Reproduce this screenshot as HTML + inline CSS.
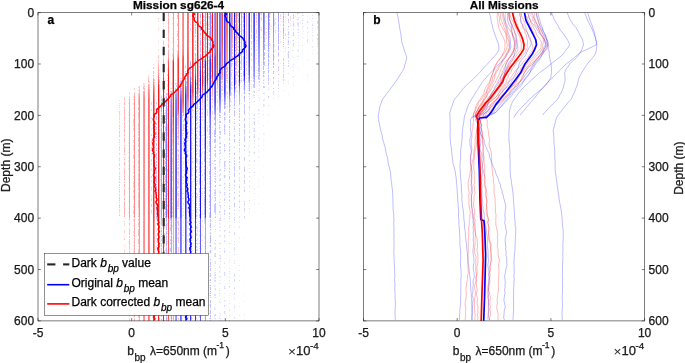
<!DOCTYPE html><html><head><meta charset="utf-8"><style>html,body{margin:0;padding:0;background:#fff;overflow:hidden}svg{display:block;will-change:transform}text{stroke:currentColor;stroke-width:0.25px}stop{stop-color:inherit}</style></head><body><svg width="685" height="363" viewBox="0 0 685 363" font-family='"Liberation Sans", sans-serif'><defs><filter id="fr" x="38.0" y="12.6" width="281.00" height="308.30" filterUnits="userSpaceOnUse" color-interpolation-filters="sRGB"><feTurbulence type="fractalNoise" baseFrequency="0.3 0.6" numOctaves="2" seed="4"/><feColorMatrix type="matrix" values="0 0 0 0 0 0 0 0 0 0 0 0 0 0 0 1 0 0 0 0"/><feComponentTransfer result="U"><feFuncA type="table" tableValues="0 0 0 0 0.003 0.014 0.048 0.109 0.203 0.323 0.481 0.672 0.808 0.894 0.955 0.986 0.997 1 1 1 1"/></feComponentTransfer><feComposite in="SourceGraphic" in2="U" operator="arithmetic" k2="10.000" k3="-2.500" result="th"/><feComponentTransfer in="SourceGraphic"><feFuncA type="table" tableValues="0 0.154 0.248 0.342 0.436 0.530 0.624 0.718 0.812 0.906 1.000"/></feComponentTransfer><feComposite in2="th" operator="in"/></filter><filter id="fb" x="38.0" y="12.6" width="281.00" height="308.30" filterUnits="userSpaceOnUse" color-interpolation-filters="sRGB"><feTurbulence type="fractalNoise" baseFrequency="0.3 0.6" numOctaves="2" seed="9"/><feColorMatrix type="matrix" values="0 0 0 0 0 0 0 0 0 0 0 0 0 0 0 1 0 0 0 0"/><feComponentTransfer result="U"><feFuncA type="table" tableValues="0 0 0 0 0.003 0.014 0.048 0.109 0.203 0.323 0.481 0.672 0.808 0.894 0.955 0.986 0.997 1 1 1 1"/></feComponentTransfer><feComposite in="SourceGraphic" in2="U" operator="arithmetic" k2="10.000" k3="-2.500" result="th"/><feComponentTransfer in="SourceGraphic"><feFuncA type="table" tableValues="0 0.154 0.248 0.342 0.436 0.530 0.624 0.718 0.812 0.906 1.000"/></feComponentTransfer><feComposite in2="th" operator="in"/></filter><linearGradient id="g1" gradientUnits="userSpaceOnUse" x1="0" y1="12.6" x2="0" y2="320.9" stop-color="#ff0000"><stop offset="0.0000" stop-opacity="0.000"/><stop offset="0.2789" stop-opacity="0.000"/><stop offset="0.2854" stop-opacity="0.125"/><stop offset="0.3341" stop-opacity="0.188"/><stop offset="0.6617" stop-opacity="0.188"/><stop offset="0.6714" stop-opacity="0.000"/><stop offset="0.9990" stop-opacity="0.000"/></linearGradient><linearGradient id="g2" gradientUnits="userSpaceOnUse" x1="0" y1="12.6" x2="0" y2="320.9" stop-color="#ff0000"><stop offset="0.0000" stop-opacity="0.000"/><stop offset="0.2660" stop-opacity="0.000"/><stop offset="0.2725" stop-opacity="0.148"/><stop offset="0.2887" stop-opacity="0.243"/><stop offset="0.6617" stop-opacity="0.270"/><stop offset="0.6682" stop-opacity="0.155"/><stop offset="0.9990" stop-opacity="0.065"/></linearGradient><linearGradient id="g3" gradientUnits="userSpaceOnUse" x1="0" y1="12.6" x2="0" y2="320.9" stop-color="#ff0000"><stop offset="0.0000" stop-opacity="0.000"/><stop offset="0.2530" stop-opacity="0.000"/><stop offset="0.2595" stop-opacity="0.145"/><stop offset="0.2887" stop-opacity="0.317"/><stop offset="0.3730" stop-opacity="0.355"/><stop offset="0.6617" stop-opacity="0.355"/><stop offset="0.6682" stop-opacity="0.224"/><stop offset="0.9990" stop-opacity="0.191"/></linearGradient><linearGradient id="g4" gradientUnits="userSpaceOnUse" x1="0" y1="12.6" x2="0" y2="320.9" stop-color="#ff0000"><stop offset="0.0000" stop-opacity="0.000"/><stop offset="0.2400" stop-opacity="0.000"/><stop offset="0.2433" stop-opacity="0.115"/><stop offset="0.2789" stop-opacity="0.389"/><stop offset="0.2919" stop-opacity="0.449"/><stop offset="0.6617" stop-opacity="0.476"/><stop offset="0.6649" stop-opacity="0.346"/><stop offset="0.6682" stop-opacity="0.283"/><stop offset="0.6779" stop-opacity="0.317"/><stop offset="0.9990" stop-opacity="0.270"/></linearGradient><linearGradient id="g5" gradientUnits="userSpaceOnUse" x1="0" y1="12.6" x2="0" y2="320.9" stop-color="#ff0000"><stop offset="0.0000" stop-opacity="0.000"/><stop offset="0.2238" stop-opacity="0.000"/><stop offset="0.2271" stop-opacity="0.100"/><stop offset="0.2660" stop-opacity="0.400"/><stop offset="0.2822" stop-opacity="0.527"/><stop offset="0.6617" stop-opacity="0.519"/><stop offset="0.6649" stop-opacity="0.419"/><stop offset="0.6682" stop-opacity="0.387"/><stop offset="0.6714" stop-opacity="0.454"/><stop offset="0.9990" stop-opacity="0.382"/></linearGradient><linearGradient id="g6" gradientUnits="userSpaceOnUse" x1="0" y1="12.6" x2="0" y2="320.9" stop-color="#ff0000"><stop offset="0.0000" stop-opacity="0.000"/><stop offset="0.2076" stop-opacity="0.000"/><stop offset="0.2108" stop-opacity="0.087"/><stop offset="0.2465" stop-opacity="0.356"/><stop offset="0.2660" stop-opacity="0.524"/><stop offset="0.2854" stop-opacity="0.626"/><stop offset="0.6617" stop-opacity="0.602"/><stop offset="0.6649" stop-opacity="0.538"/><stop offset="0.6747" stop-opacity="0.600"/><stop offset="0.9990" stop-opacity="0.542"/></linearGradient><linearGradient id="g7" gradientUnits="userSpaceOnUse" x1="0" y1="12.6" x2="0" y2="320.9" stop-color="#ff0000"><stop offset="0.0000" stop-opacity="0.000"/><stop offset="0.1816" stop-opacity="0.000"/><stop offset="0.1881" stop-opacity="0.090"/><stop offset="0.2303" stop-opacity="0.347"/><stop offset="0.2562" stop-opacity="0.598"/><stop offset="0.2854" stop-opacity="0.766"/><stop offset="0.6617" stop-opacity="0.744"/><stop offset="0.6682" stop-opacity="0.728"/><stop offset="0.9990" stop-opacity="0.707"/></linearGradient><linearGradient id="g8" gradientUnits="userSpaceOnUse" x1="0" y1="12.6" x2="0" y2="320.9" stop-color="#ff0000"><stop offset="0.0000" stop-opacity="0.052"/><stop offset="0.0616" stop-opacity="0.035"/><stop offset="0.0843" stop-opacity="0.000"/><stop offset="0.1460" stop-opacity="0.000"/><stop offset="0.1719" stop-opacity="0.160"/><stop offset="0.2108" stop-opacity="0.320"/><stop offset="0.2562" stop-opacity="0.775"/><stop offset="0.2822" stop-opacity="0.926"/><stop offset="0.6649" stop-opacity="0.902"/><stop offset="0.6747" stop-opacity="0.846"/><stop offset="0.9990" stop-opacity="0.846"/></linearGradient><linearGradient id="g9" gradientUnits="userSpaceOnUse" x1="0" y1="12.6" x2="0" y2="320.9" stop-color="#ff0000"><stop offset="0.0000" stop-opacity="0.146"/><stop offset="0.0876" stop-opacity="0.109"/><stop offset="0.1233" stop-opacity="0.107"/><stop offset="0.1557" stop-opacity="0.204"/><stop offset="0.2011" stop-opacity="0.416"/><stop offset="0.2498" stop-opacity="0.926"/><stop offset="0.6649" stop-opacity="0.902"/><stop offset="0.6747" stop-opacity="0.846"/><stop offset="0.9990" stop-opacity="0.846"/></linearGradient><linearGradient id="g10" gradientUnits="userSpaceOnUse" x1="0" y1="12.6" x2="0" y2="320.9" stop-color="#ff0000"><stop offset="0.0000" stop-opacity="0.213"/><stop offset="0.1233" stop-opacity="0.191"/><stop offset="0.1524" stop-opacity="0.279"/><stop offset="0.1849" stop-opacity="0.526"/><stop offset="0.2076" stop-opacity="0.684"/><stop offset="0.2303" stop-opacity="0.926"/><stop offset="0.6649" stop-opacity="0.902"/><stop offset="0.6747" stop-opacity="0.846"/><stop offset="0.9990" stop-opacity="0.846"/></linearGradient><linearGradient id="g11" gradientUnits="userSpaceOnUse" x1="0" y1="12.6" x2="0" y2="320.9" stop-color="#ff0000"><stop offset="0.0000" stop-opacity="0.273"/><stop offset="0.1265" stop-opacity="0.264"/><stop offset="0.1427" stop-opacity="0.311"/><stop offset="0.1557" stop-opacity="0.506"/><stop offset="0.1622" stop-opacity="0.626"/><stop offset="0.2043" stop-opacity="0.874"/><stop offset="0.2141" stop-opacity="0.926"/><stop offset="0.6649" stop-opacity="0.902"/><stop offset="0.6682" stop-opacity="0.711"/><stop offset="0.6714" stop-opacity="0.644"/><stop offset="0.9990" stop-opacity="0.644"/></linearGradient><linearGradient id="g12" gradientUnits="userSpaceOnUse" x1="0" y1="12.6" x2="0" y2="320.9" stop-color="#ff0000"><stop offset="0.0000" stop-opacity="0.360"/><stop offset="0.1168" stop-opacity="0.336"/><stop offset="0.1395" stop-opacity="0.423"/><stop offset="0.1524" stop-opacity="0.661"/><stop offset="0.1622" stop-opacity="0.897"/><stop offset="0.2108" stop-opacity="0.926"/><stop offset="0.3341" stop-opacity="0.926"/><stop offset="0.3438" stop-opacity="0.801"/><stop offset="0.4541" stop-opacity="0.545"/><stop offset="0.6617" stop-opacity="0.545"/><stop offset="0.6682" stop-opacity="0.354"/><stop offset="0.7363" stop-opacity="0.327"/><stop offset="0.9990" stop-opacity="0.327"/></linearGradient><linearGradient id="g13" gradientUnits="userSpaceOnUse" x1="0" y1="12.6" x2="0" y2="320.9" stop-color="#ff0000"><stop offset="0.0000" stop-opacity="0.497"/><stop offset="0.1103" stop-opacity="0.468"/><stop offset="0.1395" stop-opacity="0.595"/><stop offset="0.1524" stop-opacity="0.896"/><stop offset="0.1719" stop-opacity="0.926"/><stop offset="0.3114" stop-opacity="0.913"/><stop offset="0.3373" stop-opacity="0.527"/><stop offset="0.3438" stop-opacity="0.436"/><stop offset="0.4444" stop-opacity="0.258"/><stop offset="0.6649" stop-opacity="0.241"/><stop offset="0.7331" stop-opacity="0.213"/><stop offset="0.9990" stop-opacity="0.213"/></linearGradient><linearGradient id="g14" gradientUnits="userSpaceOnUse" x1="0" y1="12.6" x2="0" y2="320.9" stop-color="#ff0000"><stop offset="0.0000" stop-opacity="0.642"/><stop offset="0.1103" stop-opacity="0.630"/><stop offset="0.1362" stop-opacity="0.733"/><stop offset="0.1460" stop-opacity="0.926"/><stop offset="0.2887" stop-opacity="0.915"/><stop offset="0.3244" stop-opacity="0.479"/><stop offset="0.3406" stop-opacity="0.266"/><stop offset="0.4833" stop-opacity="0.176"/><stop offset="0.9990" stop-opacity="0.152"/></linearGradient><linearGradient id="g15" gradientUnits="userSpaceOnUse" x1="0" y1="12.6" x2="0" y2="320.9" stop-color="#ff0000"><stop offset="0.0000" stop-opacity="0.794"/><stop offset="0.1103" stop-opacity="0.801"/><stop offset="0.1427" stop-opacity="0.926"/><stop offset="0.2725" stop-opacity="0.915"/><stop offset="0.2887" stop-opacity="0.673"/><stop offset="0.3308" stop-opacity="0.252"/><stop offset="0.3503" stop-opacity="0.179"/><stop offset="0.9990" stop-opacity="0.138"/></linearGradient><linearGradient id="g16" gradientUnits="userSpaceOnUse" x1="0" y1="12.6" x2="0" y2="320.9" stop-color="#ff0000"><stop offset="0.0000" stop-opacity="0.926"/><stop offset="0.2562" stop-opacity="0.926"/><stop offset="0.2887" stop-opacity="0.471"/><stop offset="0.3146" stop-opacity="0.280"/><stop offset="0.3438" stop-opacity="0.157"/><stop offset="0.9990" stop-opacity="0.125"/></linearGradient><linearGradient id="g17" gradientUnits="userSpaceOnUse" x1="0" y1="12.6" x2="0" y2="320.9" stop-color="#ff0000"><stop offset="0.0000" stop-opacity="0.926"/><stop offset="0.2433" stop-opacity="0.926"/><stop offset="0.2854" stop-opacity="0.336"/><stop offset="0.3406" stop-opacity="0.150"/><stop offset="0.9990" stop-opacity="0.111"/></linearGradient><linearGradient id="g18" gradientUnits="userSpaceOnUse" x1="0" y1="12.6" x2="0" y2="320.9" stop-color="#ff0000"><stop offset="0.0000" stop-opacity="0.926"/><stop offset="0.2303" stop-opacity="0.926"/><stop offset="0.2692" stop-opacity="0.379"/><stop offset="0.2887" stop-opacity="0.249"/><stop offset="0.3568" stop-opacity="0.135"/><stop offset="0.9990" stop-opacity="0.094"/></linearGradient><linearGradient id="g19" gradientUnits="userSpaceOnUse" x1="0" y1="12.6" x2="0" y2="320.9" stop-color="#ff0000"><stop offset="0.0000" stop-opacity="0.926"/><stop offset="0.2173" stop-opacity="0.926"/><stop offset="0.2465" stop-opacity="0.500"/><stop offset="0.2692" stop-opacity="0.281"/><stop offset="0.3081" stop-opacity="0.173"/><stop offset="0.3990" stop-opacity="0.116"/><stop offset="0.6682" stop-opacity="0.080"/><stop offset="0.9990" stop-opacity="0.071"/></linearGradient><linearGradient id="g20" gradientUnits="userSpaceOnUse" x1="0" y1="12.6" x2="0" y2="320.9" stop-color="#ff0000"><stop offset="0.0000" stop-opacity="0.926"/><stop offset="0.2043" stop-opacity="0.922"/><stop offset="0.2335" stop-opacity="0.493"/><stop offset="0.2562" stop-opacity="0.289"/><stop offset="0.2952" stop-opacity="0.172"/><stop offset="0.3957" stop-opacity="0.102"/><stop offset="0.6649" stop-opacity="0.075"/><stop offset="0.6747" stop-opacity="0.000"/><stop offset="0.9990" stop-opacity="0.000"/></linearGradient><linearGradient id="g21" gradientUnits="userSpaceOnUse" x1="0" y1="12.6" x2="0" y2="320.9" stop-color="#ff0000"><stop offset="0.0000" stop-opacity="0.926"/><stop offset="0.1395" stop-opacity="0.908"/><stop offset="0.2043" stop-opacity="0.703"/><stop offset="0.2335" stop-opacity="0.350"/><stop offset="0.2789" stop-opacity="0.173"/><stop offset="0.3990" stop-opacity="0.083"/><stop offset="0.6617" stop-opacity="0.058"/><stop offset="0.6714" stop-opacity="0.000"/><stop offset="0.9990" stop-opacity="0.000"/></linearGradient><linearGradient id="g22" gradientUnits="userSpaceOnUse" x1="0" y1="12.6" x2="0" y2="320.9" stop-color="#ff0000"><stop offset="0.0000" stop-opacity="0.926"/><stop offset="0.0811" stop-opacity="0.900"/><stop offset="0.1881" stop-opacity="0.575"/><stop offset="0.2043" stop-opacity="0.520"/><stop offset="0.2271" stop-opacity="0.302"/><stop offset="0.2789" stop-opacity="0.161"/><stop offset="0.4217" stop-opacity="0.018"/><stop offset="0.9990" stop-opacity="0.000"/></linearGradient><linearGradient id="g23" gradientUnits="userSpaceOnUse" x1="0" y1="12.6" x2="0" y2="320.9" stop-color="#ff0000"><stop offset="0.0000" stop-opacity="0.888"/><stop offset="0.0681" stop-opacity="0.772"/><stop offset="0.1687" stop-opacity="0.457"/><stop offset="0.2043" stop-opacity="0.369"/><stop offset="0.2335" stop-opacity="0.229"/><stop offset="0.2984" stop-opacity="0.134"/><stop offset="0.3892" stop-opacity="0.000"/><stop offset="0.9990" stop-opacity="0.000"/></linearGradient><linearGradient id="g24" gradientUnits="userSpaceOnUse" x1="0" y1="12.6" x2="0" y2="320.9" stop-color="#ff0000"><stop offset="0.0000" stop-opacity="0.722"/><stop offset="0.0681" stop-opacity="0.614"/><stop offset="0.1687" stop-opacity="0.328"/><stop offset="0.2173" stop-opacity="0.237"/><stop offset="0.2887" stop-opacity="0.128"/><stop offset="0.3341" stop-opacity="0.054"/><stop offset="0.3438" stop-opacity="0.000"/><stop offset="0.9990" stop-opacity="0.000"/></linearGradient><linearGradient id="g25" gradientUnits="userSpaceOnUse" x1="0" y1="12.6" x2="0" y2="320.9" stop-color="#ff0000"><stop offset="0.0000" stop-opacity="0.576"/><stop offset="0.0681" stop-opacity="0.478"/><stop offset="0.1297" stop-opacity="0.320"/><stop offset="0.2238" stop-opacity="0.184"/><stop offset="0.3244" stop-opacity="0.061"/><stop offset="0.3341" stop-opacity="0.000"/><stop offset="0.9990" stop-opacity="0.000"/></linearGradient><linearGradient id="g26" gradientUnits="userSpaceOnUse" x1="0" y1="12.6" x2="0" y2="320.9" stop-color="#ff0000"><stop offset="0.0000" stop-opacity="0.449"/><stop offset="0.0714" stop-opacity="0.352"/><stop offset="0.1849" stop-opacity="0.214"/><stop offset="0.3179" stop-opacity="0.053"/><stop offset="0.3276" stop-opacity="0.000"/><stop offset="0.9990" stop-opacity="0.000"/></linearGradient><linearGradient id="g27" gradientUnits="userSpaceOnUse" x1="0" y1="12.6" x2="0" y2="320.9" stop-color="#ff0000"><stop offset="0.0000" stop-opacity="0.341"/><stop offset="0.2952" stop-opacity="0.061"/><stop offset="0.3211" stop-opacity="0.000"/><stop offset="0.9990" stop-opacity="0.000"/></linearGradient><linearGradient id="g28" gradientUnits="userSpaceOnUse" x1="0" y1="12.6" x2="0" y2="320.9" stop-color="#ff0000"><stop offset="0.0000" stop-opacity="0.282"/><stop offset="0.2757" stop-opacity="0.071"/><stop offset="0.2952" stop-opacity="0.000"/><stop offset="0.9990" stop-opacity="0.000"/></linearGradient><linearGradient id="g29" gradientUnits="userSpaceOnUse" x1="0" y1="12.6" x2="0" y2="320.9" stop-color="#ff0000"><stop offset="0.0000" stop-opacity="0.244"/><stop offset="0.2627" stop-opacity="0.078"/><stop offset="0.2789" stop-opacity="0.000"/><stop offset="0.9990" stop-opacity="0.000"/></linearGradient><linearGradient id="g30" gradientUnits="userSpaceOnUse" x1="0" y1="12.6" x2="0" y2="320.9" stop-color="#ff0000"><stop offset="0.0000" stop-opacity="0.213"/><stop offset="0.2530" stop-opacity="0.076"/><stop offset="0.2692" stop-opacity="0.000"/><stop offset="0.9990" stop-opacity="0.000"/></linearGradient><linearGradient id="g31" gradientUnits="userSpaceOnUse" x1="0" y1="12.6" x2="0" y2="320.9" stop-color="#ff0000"><stop offset="0.0000" stop-opacity="0.185"/><stop offset="0.2433" stop-opacity="0.072"/><stop offset="0.2627" stop-opacity="0.000"/><stop offset="0.9990" stop-opacity="0.000"/></linearGradient><linearGradient id="g32" gradientUnits="userSpaceOnUse" x1="0" y1="12.6" x2="0" y2="320.9" stop-color="#ff0000"><stop offset="0.0000" stop-opacity="0.162"/><stop offset="0.2335" stop-opacity="0.068"/><stop offset="0.2530" stop-opacity="0.000"/><stop offset="0.9990" stop-opacity="0.000"/></linearGradient><linearGradient id="g33" gradientUnits="userSpaceOnUse" x1="0" y1="12.6" x2="0" y2="320.9" stop-color="#ff0000"><stop offset="0.0000" stop-opacity="0.144"/><stop offset="0.2206" stop-opacity="0.070"/><stop offset="0.2433" stop-opacity="0.000"/><stop offset="0.9990" stop-opacity="0.000"/></linearGradient><linearGradient id="g34" gradientUnits="userSpaceOnUse" x1="0" y1="12.6" x2="0" y2="320.9" stop-color="#ff0000"><stop offset="0.0000" stop-opacity="0.131"/><stop offset="0.2108" stop-opacity="0.066"/><stop offset="0.2303" stop-opacity="0.000"/><stop offset="0.9990" stop-opacity="0.000"/></linearGradient><linearGradient id="g35" gradientUnits="userSpaceOnUse" x1="0" y1="12.6" x2="0" y2="320.9" stop-color="#ff0000"><stop offset="0.0000" stop-opacity="0.123"/><stop offset="0.2011" stop-opacity="0.061"/><stop offset="0.2206" stop-opacity="0.000"/><stop offset="0.9990" stop-opacity="0.000"/></linearGradient><linearGradient id="g36" gradientUnits="userSpaceOnUse" x1="0" y1="12.6" x2="0" y2="320.9" stop-color="#ff0000"><stop offset="0.0000" stop-opacity="0.115"/><stop offset="0.1816" stop-opacity="0.058"/><stop offset="0.2141" stop-opacity="0.000"/><stop offset="0.9990" stop-opacity="0.000"/></linearGradient><linearGradient id="g37" gradientUnits="userSpaceOnUse" x1="0" y1="12.6" x2="0" y2="320.9" stop-color="#ff0000"><stop offset="0.0000" stop-opacity="0.107"/><stop offset="0.1654" stop-opacity="0.051"/><stop offset="0.1946" stop-opacity="0.000"/><stop offset="0.9990" stop-opacity="0.000"/></linearGradient><linearGradient id="g38" gradientUnits="userSpaceOnUse" x1="0" y1="12.6" x2="0" y2="320.9" stop-color="#ff0000"><stop offset="0.0000" stop-opacity="0.098"/><stop offset="0.1524" stop-opacity="0.045"/><stop offset="0.1719" stop-opacity="0.000"/><stop offset="0.9990" stop-opacity="0.000"/></linearGradient><linearGradient id="g39" gradientUnits="userSpaceOnUse" x1="0" y1="12.6" x2="0" y2="320.9" stop-color="#ff0000"><stop offset="0.0000" stop-opacity="0.088"/><stop offset="0.1427" stop-opacity="0.031"/><stop offset="0.1589" stop-opacity="0.000"/><stop offset="0.9990" stop-opacity="0.000"/></linearGradient><linearGradient id="g40" gradientUnits="userSpaceOnUse" x1="0" y1="12.6" x2="0" y2="320.9" stop-color="#ff0000"><stop offset="0.0000" stop-opacity="0.075"/><stop offset="0.1200" stop-opacity="0.014"/><stop offset="0.9990" stop-opacity="0.000"/></linearGradient><linearGradient id="g41" gradientUnits="userSpaceOnUse" x1="0" y1="12.6" x2="0" y2="320.9" stop-color="#ff0000"><stop offset="0.0000" stop-opacity="0.058"/><stop offset="0.0811" stop-opacity="0.011"/><stop offset="0.9990" stop-opacity="0.000"/></linearGradient><linearGradient id="g42" gradientUnits="userSpaceOnUse" x1="0" y1="12.6" x2="0" y2="320.9" stop-color="#0000ff"><stop offset="0.0000" stop-opacity="0.000"/><stop offset="0.2757" stop-opacity="0.000"/><stop offset="0.2854" stop-opacity="0.106"/><stop offset="0.6617" stop-opacity="0.143"/><stop offset="0.6682" stop-opacity="0.000"/><stop offset="0.9990" stop-opacity="0.000"/></linearGradient><linearGradient id="g43" gradientUnits="userSpaceOnUse" x1="0" y1="12.6" x2="0" y2="320.9" stop-color="#0000ff"><stop offset="0.0000" stop-opacity="0.000"/><stop offset="0.2660" stop-opacity="0.000"/><stop offset="0.2725" stop-opacity="0.111"/><stop offset="0.2887" stop-opacity="0.195"/><stop offset="0.6390" stop-opacity="0.241"/><stop offset="0.6617" stop-opacity="0.241"/><stop offset="0.6714" stop-opacity="0.105"/><stop offset="0.9990" stop-opacity="0.105"/></linearGradient><linearGradient id="g44" gradientUnits="userSpaceOnUse" x1="0" y1="12.6" x2="0" y2="320.9" stop-color="#0000ff"><stop offset="0.0000" stop-opacity="0.000"/><stop offset="0.2530" stop-opacity="0.000"/><stop offset="0.2660" stop-opacity="0.156"/><stop offset="0.2887" stop-opacity="0.267"/><stop offset="0.5092" stop-opacity="0.354"/><stop offset="0.6617" stop-opacity="0.354"/><stop offset="0.6682" stop-opacity="0.219"/><stop offset="0.9990" stop-opacity="0.194"/></linearGradient><linearGradient id="g45" gradientUnits="userSpaceOnUse" x1="0" y1="12.6" x2="0" y2="320.9" stop-color="#0000ff"><stop offset="0.0000" stop-opacity="0.000"/><stop offset="0.2400" stop-opacity="0.000"/><stop offset="0.2465" stop-opacity="0.098"/><stop offset="0.2887" stop-opacity="0.373"/><stop offset="0.3730" stop-opacity="0.502"/><stop offset="0.4963" stop-opacity="0.562"/><stop offset="0.6617" stop-opacity="0.562"/><stop offset="0.6682" stop-opacity="0.298"/><stop offset="0.6876" stop-opacity="0.268"/><stop offset="0.9990" stop-opacity="0.268"/></linearGradient><linearGradient id="g46" gradientUnits="userSpaceOnUse" x1="0" y1="12.6" x2="0" y2="320.9" stop-color="#0000ff"><stop offset="0.0000" stop-opacity="0.000"/><stop offset="0.2238" stop-opacity="0.000"/><stop offset="0.2335" stop-opacity="0.122"/><stop offset="0.2692" stop-opacity="0.366"/><stop offset="0.2854" stop-opacity="0.531"/><stop offset="0.3633" stop-opacity="0.696"/><stop offset="0.4768" stop-opacity="0.787"/><stop offset="0.6617" stop-opacity="0.787"/><stop offset="0.6649" stop-opacity="0.647"/><stop offset="0.6682" stop-opacity="0.449"/><stop offset="0.6714" stop-opacity="0.381"/><stop offset="0.9990" stop-opacity="0.381"/></linearGradient><linearGradient id="g47" gradientUnits="userSpaceOnUse" x1="0" y1="12.6" x2="0" y2="320.9" stop-color="#0000ff"><stop offset="0.0000" stop-opacity="0.000"/><stop offset="0.2076" stop-opacity="0.000"/><stop offset="0.2206" stop-opacity="0.146"/><stop offset="0.2530" stop-opacity="0.346"/><stop offset="0.2854" stop-opacity="0.706"/><stop offset="0.3568" stop-opacity="0.902"/><stop offset="0.6617" stop-opacity="0.926"/><stop offset="0.6649" stop-opacity="0.864"/><stop offset="0.6682" stop-opacity="0.632"/><stop offset="0.6714" stop-opacity="0.552"/><stop offset="0.9990" stop-opacity="0.552"/></linearGradient><linearGradient id="g48" gradientUnits="userSpaceOnUse" x1="0" y1="12.6" x2="0" y2="320.9" stop-color="#0000ff"><stop offset="0.0000" stop-opacity="0.000"/><stop offset="0.1816" stop-opacity="0.000"/><stop offset="0.1946" stop-opacity="0.103"/><stop offset="0.2368" stop-opacity="0.356"/><stop offset="0.2854" stop-opacity="0.890"/><stop offset="0.3179" stop-opacity="0.926"/><stop offset="0.6617" stop-opacity="0.926"/><stop offset="0.6714" stop-opacity="0.735"/><stop offset="0.9990" stop-opacity="0.735"/></linearGradient><linearGradient id="g49" gradientUnits="userSpaceOnUse" x1="0" y1="12.6" x2="0" y2="320.9" stop-color="#0000ff"><stop offset="0.0000" stop-opacity="0.052"/><stop offset="0.0616" stop-opacity="0.035"/><stop offset="0.0843" stop-opacity="0.000"/><stop offset="0.1460" stop-opacity="0.000"/><stop offset="0.1687" stop-opacity="0.139"/><stop offset="0.2108" stop-opacity="0.288"/><stop offset="0.2692" stop-opacity="0.926"/><stop offset="0.6617" stop-opacity="0.926"/><stop offset="0.6714" stop-opacity="0.777"/><stop offset="0.9990" stop-opacity="0.777"/></linearGradient><linearGradient id="g50" gradientUnits="userSpaceOnUse" x1="0" y1="12.6" x2="0" y2="320.9" stop-color="#0000ff"><stop offset="0.0000" stop-opacity="0.146"/><stop offset="0.0876" stop-opacity="0.109"/><stop offset="0.1233" stop-opacity="0.107"/><stop offset="0.1557" stop-opacity="0.204"/><stop offset="0.2043" stop-opacity="0.392"/><stop offset="0.2498" stop-opacity="0.926"/><stop offset="0.6617" stop-opacity="0.926"/><stop offset="0.6714" stop-opacity="0.777"/><stop offset="0.9990" stop-opacity="0.777"/></linearGradient><linearGradient id="g51" gradientUnits="userSpaceOnUse" x1="0" y1="12.6" x2="0" y2="320.9" stop-color="#0000ff"><stop offset="0.0000" stop-opacity="0.213"/><stop offset="0.1233" stop-opacity="0.191"/><stop offset="0.1524" stop-opacity="0.279"/><stop offset="0.1752" stop-opacity="0.448"/><stop offset="0.2043" stop-opacity="0.620"/><stop offset="0.2303" stop-opacity="0.926"/><stop offset="0.6617" stop-opacity="0.926"/><stop offset="0.6714" stop-opacity="0.777"/><stop offset="0.9990" stop-opacity="0.777"/></linearGradient><linearGradient id="g52" gradientUnits="userSpaceOnUse" x1="0" y1="12.6" x2="0" y2="320.9" stop-color="#0000ff"><stop offset="0.0000" stop-opacity="0.273"/><stop offset="0.1265" stop-opacity="0.264"/><stop offset="0.1427" stop-opacity="0.311"/><stop offset="0.1557" stop-opacity="0.506"/><stop offset="0.1622" stop-opacity="0.625"/><stop offset="0.2043" stop-opacity="0.868"/><stop offset="0.2141" stop-opacity="0.926"/><stop offset="0.6617" stop-opacity="0.926"/><stop offset="0.6649" stop-opacity="0.881"/><stop offset="0.6682" stop-opacity="0.710"/><stop offset="0.6714" stop-opacity="0.607"/><stop offset="0.9990" stop-opacity="0.607"/></linearGradient><linearGradient id="g53" gradientUnits="userSpaceOnUse" x1="0" y1="12.6" x2="0" y2="320.9" stop-color="#0000ff"><stop offset="0.0000" stop-opacity="0.360"/><stop offset="0.1168" stop-opacity="0.336"/><stop offset="0.1395" stop-opacity="0.423"/><stop offset="0.1524" stop-opacity="0.661"/><stop offset="0.1622" stop-opacity="0.897"/><stop offset="0.2108" stop-opacity="0.926"/><stop offset="0.3925" stop-opacity="0.900"/><stop offset="0.4606" stop-opacity="0.787"/><stop offset="0.6617" stop-opacity="0.787"/><stop offset="0.6682" stop-opacity="0.396"/><stop offset="0.6714" stop-opacity="0.335"/><stop offset="0.9990" stop-opacity="0.335"/></linearGradient><linearGradient id="g54" gradientUnits="userSpaceOnUse" x1="0" y1="12.6" x2="0" y2="320.9" stop-color="#0000ff"><stop offset="0.0000" stop-opacity="0.497"/><stop offset="0.1103" stop-opacity="0.468"/><stop offset="0.1395" stop-opacity="0.595"/><stop offset="0.1524" stop-opacity="0.896"/><stop offset="0.1719" stop-opacity="0.926"/><stop offset="0.3114" stop-opacity="0.913"/><stop offset="0.3438" stop-opacity="0.647"/><stop offset="0.4573" stop-opacity="0.401"/><stop offset="0.6617" stop-opacity="0.401"/><stop offset="0.6682" stop-opacity="0.249"/><stop offset="0.9990" stop-opacity="0.231"/></linearGradient><linearGradient id="g55" gradientUnits="userSpaceOnUse" x1="0" y1="12.6" x2="0" y2="320.9" stop-color="#0000ff"><stop offset="0.0000" stop-opacity="0.642"/><stop offset="0.1103" stop-opacity="0.630"/><stop offset="0.1362" stop-opacity="0.733"/><stop offset="0.1460" stop-opacity="0.926"/><stop offset="0.2887" stop-opacity="0.915"/><stop offset="0.3276" stop-opacity="0.524"/><stop offset="0.3471" stop-opacity="0.394"/><stop offset="0.4541" stop-opacity="0.250"/><stop offset="0.6617" stop-opacity="0.250"/><stop offset="0.6747" stop-opacity="0.173"/><stop offset="0.9990" stop-opacity="0.173"/></linearGradient><linearGradient id="g56" gradientUnits="userSpaceOnUse" x1="0" y1="12.6" x2="0" y2="320.9" stop-color="#0000ff"><stop offset="0.0000" stop-opacity="0.794"/><stop offset="0.1103" stop-opacity="0.801"/><stop offset="0.1427" stop-opacity="0.926"/><stop offset="0.2725" stop-opacity="0.915"/><stop offset="0.2887" stop-opacity="0.681"/><stop offset="0.3276" stop-opacity="0.335"/><stop offset="0.3568" stop-opacity="0.260"/><stop offset="0.5157" stop-opacity="0.205"/><stop offset="0.6649" stop-opacity="0.189"/><stop offset="0.6876" stop-opacity="0.156"/><stop offset="0.9990" stop-opacity="0.156"/></linearGradient><linearGradient id="g57" gradientUnits="userSpaceOnUse" x1="0" y1="12.6" x2="0" y2="320.9" stop-color="#0000ff"><stop offset="0.0000" stop-opacity="0.926"/><stop offset="0.2562" stop-opacity="0.926"/><stop offset="0.2887" stop-opacity="0.484"/><stop offset="0.3146" stop-opacity="0.296"/><stop offset="0.3600" stop-opacity="0.212"/><stop offset="0.6649" stop-opacity="0.178"/><stop offset="0.6844" stop-opacity="0.142"/><stop offset="0.9990" stop-opacity="0.142"/></linearGradient><linearGradient id="g58" gradientUnits="userSpaceOnUse" x1="0" y1="12.6" x2="0" y2="320.9" stop-color="#0000ff"><stop offset="0.0000" stop-opacity="0.926"/><stop offset="0.2433" stop-opacity="0.926"/><stop offset="0.2854" stop-opacity="0.349"/><stop offset="0.3308" stop-opacity="0.207"/><stop offset="0.6649" stop-opacity="0.167"/><stop offset="0.6812" stop-opacity="0.127"/><stop offset="0.9990" stop-opacity="0.127"/></linearGradient><linearGradient id="g59" gradientUnits="userSpaceOnUse" x1="0" y1="12.6" x2="0" y2="320.9" stop-color="#0000ff"><stop offset="0.0000" stop-opacity="0.926"/><stop offset="0.2303" stop-opacity="0.926"/><stop offset="0.2660" stop-opacity="0.424"/><stop offset="0.2822" stop-opacity="0.280"/><stop offset="0.3373" stop-opacity="0.187"/><stop offset="0.6649" stop-opacity="0.154"/><stop offset="0.6779" stop-opacity="0.111"/><stop offset="0.9990" stop-opacity="0.111"/></linearGradient><linearGradient id="g60" gradientUnits="userSpaceOnUse" x1="0" y1="12.6" x2="0" y2="320.9" stop-color="#0000ff"><stop offset="0.0000" stop-opacity="0.926"/><stop offset="0.2173" stop-opacity="0.926"/><stop offset="0.2465" stop-opacity="0.500"/><stop offset="0.2692" stop-opacity="0.286"/><stop offset="0.3081" stop-opacity="0.190"/><stop offset="0.6649" stop-opacity="0.141"/><stop offset="0.6779" stop-opacity="0.091"/><stop offset="0.9990" stop-opacity="0.091"/></linearGradient><linearGradient id="g61" gradientUnits="userSpaceOnUse" x1="0" y1="12.6" x2="0" y2="320.9" stop-color="#0000ff"><stop offset="0.0000" stop-opacity="0.926"/><stop offset="0.2043" stop-opacity="0.922"/><stop offset="0.2335" stop-opacity="0.493"/><stop offset="0.2562" stop-opacity="0.290"/><stop offset="0.2952" stop-opacity="0.185"/><stop offset="0.6649" stop-opacity="0.126"/><stop offset="0.6747" stop-opacity="0.060"/><stop offset="0.9990" stop-opacity="0.060"/></linearGradient><linearGradient id="g62" gradientUnits="userSpaceOnUse" x1="0" y1="12.6" x2="0" y2="320.9" stop-color="#0000ff"><stop offset="0.0000" stop-opacity="0.926"/><stop offset="0.1395" stop-opacity="0.908"/><stop offset="0.2043" stop-opacity="0.703"/><stop offset="0.2335" stop-opacity="0.350"/><stop offset="0.2757" stop-opacity="0.186"/><stop offset="0.5514" stop-opacity="0.129"/><stop offset="0.6649" stop-opacity="0.109"/><stop offset="0.6714" stop-opacity="0.000"/><stop offset="0.9990" stop-opacity="0.000"/></linearGradient><linearGradient id="g63" gradientUnits="userSpaceOnUse" x1="0" y1="12.6" x2="0" y2="320.9" stop-color="#0000ff"><stop offset="0.0000" stop-opacity="0.926"/><stop offset="0.0811" stop-opacity="0.900"/><stop offset="0.1881" stop-opacity="0.575"/><stop offset="0.2043" stop-opacity="0.520"/><stop offset="0.2271" stop-opacity="0.302"/><stop offset="0.2757" stop-opacity="0.172"/><stop offset="0.5417" stop-opacity="0.113"/><stop offset="0.6649" stop-opacity="0.088"/><stop offset="0.6682" stop-opacity="0.000"/><stop offset="0.9990" stop-opacity="0.000"/></linearGradient><linearGradient id="g64" gradientUnits="userSpaceOnUse" x1="0" y1="12.6" x2="0" y2="320.9" stop-color="#0000ff"><stop offset="0.0000" stop-opacity="0.888"/><stop offset="0.0681" stop-opacity="0.772"/><stop offset="0.1687" stop-opacity="0.457"/><stop offset="0.2043" stop-opacity="0.369"/><stop offset="0.2335" stop-opacity="0.229"/><stop offset="0.2919" stop-opacity="0.149"/><stop offset="0.5709" stop-opacity="0.094"/><stop offset="0.6617" stop-opacity="0.094"/><stop offset="0.6682" stop-opacity="0.000"/><stop offset="0.9990" stop-opacity="0.000"/></linearGradient><linearGradient id="g65" gradientUnits="userSpaceOnUse" x1="0" y1="12.6" x2="0" y2="320.9" stop-color="#0000ff"><stop offset="0.0000" stop-opacity="0.722"/><stop offset="0.0681" stop-opacity="0.614"/><stop offset="0.1687" stop-opacity="0.328"/><stop offset="0.2173" stop-opacity="0.237"/><stop offset="0.2757" stop-opacity="0.147"/><stop offset="0.4833" stop-opacity="0.065"/><stop offset="0.6617" stop-opacity="0.065"/><stop offset="0.6649" stop-opacity="0.000"/><stop offset="0.9990" stop-opacity="0.000"/></linearGradient><linearGradient id="g66" gradientUnits="userSpaceOnUse" x1="0" y1="12.6" x2="0" y2="320.9" stop-color="#0000ff"><stop offset="0.0000" stop-opacity="0.576"/><stop offset="0.0681" stop-opacity="0.478"/><stop offset="0.1297" stop-opacity="0.320"/><stop offset="0.2238" stop-opacity="0.184"/><stop offset="0.4411" stop-opacity="0.000"/><stop offset="0.9990" stop-opacity="0.000"/></linearGradient><linearGradient id="g67" gradientUnits="userSpaceOnUse" x1="0" y1="12.6" x2="0" y2="320.9" stop-color="#0000ff"><stop offset="0.0000" stop-opacity="0.449"/><stop offset="0.0714" stop-opacity="0.352"/><stop offset="0.1849" stop-opacity="0.214"/><stop offset="0.3308" stop-opacity="0.030"/><stop offset="0.3471" stop-opacity="0.000"/><stop offset="0.9990" stop-opacity="0.000"/></linearGradient><linearGradient id="g68" gradientUnits="userSpaceOnUse" x1="0" y1="12.6" x2="0" y2="320.9" stop-color="#0000ff"><stop offset="0.0000" stop-opacity="0.341"/><stop offset="0.2984" stop-opacity="0.058"/><stop offset="0.3211" stop-opacity="0.000"/><stop offset="0.9990" stop-opacity="0.000"/></linearGradient><linearGradient id="g69" gradientUnits="userSpaceOnUse" x1="0" y1="12.6" x2="0" y2="320.9" stop-color="#0000ff"><stop offset="0.0000" stop-opacity="0.282"/><stop offset="0.2757" stop-opacity="0.074"/><stop offset="0.2952" stop-opacity="0.000"/><stop offset="0.9990" stop-opacity="0.000"/></linearGradient><linearGradient id="g70" gradientUnits="userSpaceOnUse" x1="0" y1="12.6" x2="0" y2="320.9" stop-color="#0000ff"><stop offset="0.0000" stop-opacity="0.244"/><stop offset="0.2660" stop-opacity="0.071"/><stop offset="0.2789" stop-opacity="0.000"/><stop offset="0.9990" stop-opacity="0.000"/></linearGradient><linearGradient id="g71" gradientUnits="userSpaceOnUse" x1="0" y1="12.6" x2="0" y2="320.9" stop-color="#0000ff"><stop offset="0.0000" stop-opacity="0.213"/><stop offset="0.2530" stop-opacity="0.076"/><stop offset="0.2692" stop-opacity="0.000"/><stop offset="0.9990" stop-opacity="0.000"/></linearGradient><linearGradient id="g72" gradientUnits="userSpaceOnUse" x1="0" y1="12.6" x2="0" y2="320.9" stop-color="#0000ff"><stop offset="0.0000" stop-opacity="0.185"/><stop offset="0.2433" stop-opacity="0.072"/><stop offset="0.2627" stop-opacity="0.000"/><stop offset="0.9990" stop-opacity="0.000"/></linearGradient><linearGradient id="g73" gradientUnits="userSpaceOnUse" x1="0" y1="12.6" x2="0" y2="320.9" stop-color="#0000ff"><stop offset="0.0000" stop-opacity="0.162"/><stop offset="0.2335" stop-opacity="0.068"/><stop offset="0.2530" stop-opacity="0.000"/><stop offset="0.9990" stop-opacity="0.000"/></linearGradient><linearGradient id="g74" gradientUnits="userSpaceOnUse" x1="0" y1="12.6" x2="0" y2="320.9" stop-color="#0000ff"><stop offset="0.0000" stop-opacity="0.144"/><stop offset="0.2206" stop-opacity="0.070"/><stop offset="0.2433" stop-opacity="0.000"/><stop offset="0.9990" stop-opacity="0.000"/></linearGradient><linearGradient id="g75" gradientUnits="userSpaceOnUse" x1="0" y1="12.6" x2="0" y2="320.9" stop-color="#0000ff"><stop offset="0.0000" stop-opacity="0.131"/><stop offset="0.2108" stop-opacity="0.066"/><stop offset="0.2303" stop-opacity="0.000"/><stop offset="0.9990" stop-opacity="0.000"/></linearGradient><linearGradient id="g76" gradientUnits="userSpaceOnUse" x1="0" y1="12.6" x2="0" y2="320.9" stop-color="#0000ff"><stop offset="0.0000" stop-opacity="0.123"/><stop offset="0.2011" stop-opacity="0.061"/><stop offset="0.2206" stop-opacity="0.000"/><stop offset="0.9990" stop-opacity="0.000"/></linearGradient><clipPath id="ca"><rect x="38.0" y="12.6" width="281.00" height="308.30"/></clipPath><clipPath id="cb"><rect x="363.5" y="12.6" width="281.10" height="308.30"/></clipPath></defs><rect width="685" height="363" fill="#fff"/>
<g clip-path="url(#ca)">
<g filter="url(#fr)">
<rect x="118.99" y="12.6" width="1.3" height="308.30" fill="url(#g1)"/>
<rect x="123.87" y="12.6" width="1.3" height="308.30" fill="url(#g2)"/>
<rect x="128.75" y="12.6" width="1.3" height="308.30" fill="url(#g3)"/>
<rect x="133.63" y="12.6" width="1.3" height="308.30" fill="url(#g4)"/>
<rect x="138.51" y="12.6" width="1.3" height="308.30" fill="url(#g5)"/>
<rect x="143.39" y="12.6" width="1.3" height="308.30" fill="url(#g6)"/>
<rect x="148.27" y="12.6" width="1.3" height="308.30" fill="url(#g7)"/>
<rect x="153.15" y="12.6" width="1.3" height="308.30" fill="url(#g8)"/>
<rect x="158.03" y="12.6" width="1.3" height="308.30" fill="url(#g9)"/>
<rect x="162.91" y="12.6" width="1.3" height="308.30" fill="url(#g10)"/>
<rect x="167.79" y="12.6" width="1.3" height="308.30" fill="url(#g11)"/>
<rect x="172.67" y="12.6" width="1.3" height="308.30" fill="url(#g12)"/>
<rect x="177.55" y="12.6" width="1.3" height="308.30" fill="url(#g13)"/>
<rect x="182.43" y="12.6" width="1.3" height="308.30" fill="url(#g14)"/>
<rect x="187.31" y="12.6" width="1.3" height="308.30" fill="url(#g15)"/>
<rect x="192.19" y="12.6" width="1.3" height="308.30" fill="url(#g16)"/>
<rect x="197.07" y="12.6" width="1.3" height="308.30" fill="url(#g17)"/>
<rect x="201.95" y="12.6" width="1.3" height="308.30" fill="url(#g18)"/>
<rect x="206.83" y="12.6" width="1.3" height="308.30" fill="url(#g19)"/>
<rect x="211.71" y="12.6" width="1.3" height="308.30" fill="url(#g20)"/>
<rect x="216.59" y="12.6" width="1.3" height="308.30" fill="url(#g21)"/>
<rect x="221.47" y="12.6" width="1.3" height="308.30" fill="url(#g22)"/>
<rect x="226.35" y="12.6" width="1.3" height="308.30" fill="url(#g23)"/>
<rect x="231.23" y="12.6" width="1.3" height="308.30" fill="url(#g24)"/>
<rect x="236.11" y="12.6" width="1.3" height="308.30" fill="url(#g25)"/>
<rect x="240.99" y="12.6" width="1.3" height="308.30" fill="url(#g26)"/>
<rect x="245.87" y="12.6" width="1.3" height="308.30" fill="url(#g27)"/>
<rect x="250.75" y="12.6" width="1.3" height="308.30" fill="url(#g28)"/>
<rect x="255.63" y="12.6" width="1.3" height="308.30" fill="url(#g29)"/>
<rect x="260.51" y="12.6" width="1.3" height="308.30" fill="url(#g30)"/>
<rect x="265.39" y="12.6" width="1.3" height="308.30" fill="url(#g31)"/>
<rect x="270.27" y="12.6" width="1.3" height="308.30" fill="url(#g32)"/>
<rect x="275.15" y="12.6" width="1.3" height="308.30" fill="url(#g33)"/>
<rect x="280.03" y="12.6" width="1.3" height="308.30" fill="url(#g34)"/>
<rect x="284.91" y="12.6" width="1.3" height="308.30" fill="url(#g35)"/>
<rect x="289.79" y="12.6" width="1.3" height="308.30" fill="url(#g36)"/>
<rect x="294.67" y="12.6" width="1.3" height="308.30" fill="url(#g37)"/>
<rect x="299.55" y="12.6" width="1.3" height="308.30" fill="url(#g38)"/>
<rect x="304.43" y="12.6" width="1.3" height="308.30" fill="url(#g39)"/>
<rect x="309.31" y="12.6" width="1.3" height="308.30" fill="url(#g40)"/>
<rect x="314.19" y="12.6" width="1.3" height="308.30" fill="url(#g41)"/>
</g><g filter="url(#fb)">
<rect x="150.99" y="12.6" width="1.3" height="308.30" fill="url(#g42)"/>
<rect x="155.87" y="12.6" width="1.3" height="308.30" fill="url(#g43)"/>
<rect x="160.75" y="12.6" width="1.3" height="308.30" fill="url(#g44)"/>
<rect x="165.63" y="12.6" width="1.3" height="308.30" fill="url(#g45)"/>
<rect x="170.51" y="12.6" width="1.3" height="308.30" fill="url(#g46)"/>
<rect x="175.39" y="12.6" width="1.3" height="308.30" fill="url(#g47)"/>
<rect x="180.27" y="12.6" width="1.3" height="308.30" fill="url(#g48)"/>
<rect x="185.15" y="12.6" width="1.3" height="308.30" fill="url(#g49)"/>
<rect x="190.03" y="12.6" width="1.3" height="308.30" fill="url(#g50)"/>
<rect x="194.91" y="12.6" width="1.3" height="308.30" fill="url(#g51)"/>
<rect x="199.79" y="12.6" width="1.3" height="308.30" fill="url(#g52)"/>
<rect x="204.67" y="12.6" width="1.3" height="308.30" fill="url(#g53)"/>
<rect x="209.55" y="12.6" width="1.3" height="308.30" fill="url(#g54)"/>
<rect x="214.43" y="12.6" width="1.3" height="308.30" fill="url(#g55)"/>
<rect x="219.31" y="12.6" width="1.3" height="308.30" fill="url(#g56)"/>
<rect x="224.19" y="12.6" width="1.3" height="308.30" fill="url(#g57)"/>
<rect x="229.07" y="12.6" width="1.3" height="308.30" fill="url(#g58)"/>
<rect x="233.95" y="12.6" width="1.3" height="308.30" fill="url(#g59)"/>
<rect x="238.83" y="12.6" width="1.3" height="308.30" fill="url(#g60)"/>
<rect x="243.71" y="12.6" width="1.3" height="308.30" fill="url(#g61)"/>
<rect x="248.59" y="12.6" width="1.3" height="308.30" fill="url(#g62)"/>
<rect x="253.47" y="12.6" width="1.3" height="308.30" fill="url(#g63)"/>
<rect x="258.35" y="12.6" width="1.3" height="308.30" fill="url(#g64)"/>
<rect x="263.23" y="12.6" width="1.3" height="308.30" fill="url(#g65)"/>
<rect x="268.11" y="12.6" width="1.3" height="308.30" fill="url(#g66)"/>
<rect x="272.99" y="12.6" width="1.3" height="308.30" fill="url(#g67)"/>
<rect x="277.87" y="12.6" width="1.3" height="308.30" fill="url(#g68)"/>
<rect x="282.75" y="12.6" width="1.3" height="308.30" fill="url(#g69)"/>
<rect x="287.63" y="12.6" width="1.3" height="308.30" fill="url(#g70)"/>
<rect x="292.51" y="12.6" width="1.3" height="308.30" fill="url(#g71)"/>
<rect x="297.39" y="12.6" width="1.3" height="308.30" fill="url(#g72)"/>
<rect x="302.27" y="12.6" width="1.3" height="308.30" fill="url(#g73)"/>
<rect x="307.15" y="12.6" width="1.3" height="308.30" fill="url(#g74)"/>
<rect x="312.03" y="12.6" width="1.3" height="308.30" fill="url(#g75)"/>
<rect x="316.91" y="12.6" width="1.3" height="308.30" fill="url(#g76)"/>
</g>
<polyline points="192.73,12.6 194.62,14.1 192.67,15.6 193.64,17.1 194.23,18.6 194.24,20.1 195.2,21.6 197.82,23.1 197.92,24.6 199.01,26.1 201.52,27.6 201.66,29.1 203.41,30.6 204.16,32.1 205.95,33.6 206.57,35.1 208.97,36.6 210.95,38.1 211.41,39.6 212.71,41.1 213.13,42.6 212.58,44.1 213.98,45.6 213.5,47.1 211.98,48.6 210.46,50.1 210.46,51.6 208.25,53.1 206.88,54.6 205.3,56.1 202.87,57.6 200.97,59.1 197.94,60.6 196.81,62.1 194.4,63.6 193.78,65.1 192.2,66.6 189.62,68.1 188.51,69.6 187.6,71.1 188.23,72.6 186.54,74.1 186.13,75.6 184.79,77.1 184.41,78.6 183.4,80.1 182.34,81.6 181.78,83.1 180.78,84.6 180.18,86.1 178.57,87.6 177.78,89.1 176.18,90.6 174.96,92.1 172.9,93.6 170.44,95.1 170.16,96.6 168.98,98.1 167.62,99.6 165.76,101.1 164.59,102.6 161.9,104.1 161.23,105.6 159.39,107.1 157.86,108.6 156.46,110.1 156.91,111.6 156.31,113.1 153.84,114.6 154.44,116.1 153.74,117.6 153.27,119.1 153.58,120.6 154.55,122.1 154.85,123.6 153.47,125.1 154.6,126.6 153.48,128.1 154.61,129.6 153.82,131.1 154.72,132.6 154.81,134.1 153.88,135.6 154.71,137.1 153.42,138.6 152.94,140.1 153.83,141.6 152.75,143.1 152.97,144.6 153.26,146.1 153.55,147.6 152.65,149.1 152.36,150.6 153.76,152.1 153.06,153.6 154.51,155.1 154.61,156.6 153.68,158.1 153.83,159.6 153.94,161.1 154.16,162.6 154.07,164.1 154.19,165.6 154.54,167.1 155.36,168.6 154.79,170.1 154.38,171.6 154.63,173.1 153.48,174.6 153.71,176.1 155.13,177.6 154.51,179.1 154.76,180.6 153.98,182.1 154.85,183.6 155.29,185.1 154.43,186.6 155.64,188.1 155.82,189.6 154.93,191.1 156.1,192.6 155.96,194.1 156.49,195.6 156.05,197.1 156.83,198.6 157.03,200.1 155.89,201.6 156.1,203.1 157.35,204.6 158.01,206.1 156.88,207.6 157.39,209.1 157.79,210.6 157.44,212.1 157.67,213.6 157.7,215.1 157.89,216.6 158.39,218.1 157.95,219.6 158.18,221.1 158.96,222.6 157.69,224.1 158.74,225.6 159.11,227.1 158.42,228.6 158.33,230.1 159.44,231.6 158.38,233.1 158.24,234.6 158.64,236.1 159.07,237.6 157.95,239.1 158.3,240.6 158.28,242.1 159.13,243.6 158.38,245.1 159.08,246.6 157.8,248.1 158,249.6 158.47,251.1 158.8,252.6 157.92,254.1 157.42,255.6 157.14,257.1 157.78,258.6 157.07,260.1 158.09,261.6 158.05,263.1 156.77,264.6 156.85,266.1 157.71,267.6 157.31,269.1 157.52,270.6 156.6,272.1 156.12,273.6 156.32,275.1 157.13,276.6 156.1,278.1 156.15,279.6 156.18,281.1 156.1,282.6 155.99,284.1 156.82,285.6 155.35,287.1 154.99,288.6 156.59,290.1 156.39,291.6 156.49,293.1 155.41,294.6 156.25,296.1 156.12,297.6 154.76,299.1 155.62,300.6 155.69,302.1 155.3,303.6 154.95,305.1 154.45,306.6 154.46,308.1 154.16,309.6 153.79,311.1 154.64,312.6 154.01,314.1 154.87,315.6 153.4,317.1 154.86,318.6 154.4,320.1" fill="none" stroke="#0000ff" stroke-width="1.5" stroke-linejoin="round" transform="translate(32,0)"/>
<polyline points="192.73,12.6 194.62,14.1 192.67,15.6 193.64,17.1 194.23,18.6 194.24,20.1 195.2,21.6 197.82,23.1 197.92,24.6 199.01,26.1 201.52,27.6 201.66,29.1 203.41,30.6 204.16,32.1 205.95,33.6 206.57,35.1 208.97,36.6 210.95,38.1 211.41,39.6 212.71,41.1 213.13,42.6 212.58,44.1 213.98,45.6 213.5,47.1 211.98,48.6 210.46,50.1 210.46,51.6 208.25,53.1 206.88,54.6 205.3,56.1 202.87,57.6 200.97,59.1 197.94,60.6 196.81,62.1 194.4,63.6 193.78,65.1 192.2,66.6 189.62,68.1 188.51,69.6 187.6,71.1 188.23,72.6 186.54,74.1 186.13,75.6 184.79,77.1 184.41,78.6 183.4,80.1 182.34,81.6 181.78,83.1 180.78,84.6 180.18,86.1 178.57,87.6 177.78,89.1 176.18,90.6 174.96,92.1 172.9,93.6 170.44,95.1 170.16,96.6 168.98,98.1 167.62,99.6 165.76,101.1 164.59,102.6 161.9,104.1 161.23,105.6 159.39,107.1 157.86,108.6 156.46,110.1 156.91,111.6 156.31,113.1 153.84,114.6 154.44,116.1 153.74,117.6 153.27,119.1 153.58,120.6 154.55,122.1 154.85,123.6 153.47,125.1 154.6,126.6 153.48,128.1 154.61,129.6 153.82,131.1 154.72,132.6 154.81,134.1 153.88,135.6 154.71,137.1 153.42,138.6 152.94,140.1 153.83,141.6 152.75,143.1 152.97,144.6 153.26,146.1 153.55,147.6 152.65,149.1 152.36,150.6 153.76,152.1 153.06,153.6 154.51,155.1 154.61,156.6 153.68,158.1 153.83,159.6 153.94,161.1 154.16,162.6 154.07,164.1 154.19,165.6 154.54,167.1 155.36,168.6 154.79,170.1 154.38,171.6 154.63,173.1 153.48,174.6 153.71,176.1 155.13,177.6 154.51,179.1 154.76,180.6 153.98,182.1 154.85,183.6 155.29,185.1 154.43,186.6 155.64,188.1 155.82,189.6 154.93,191.1 156.1,192.6 155.96,194.1 156.49,195.6 156.05,197.1 156.83,198.6 157.03,200.1 155.89,201.6 156.1,203.1 157.35,204.6 158.01,206.1 156.88,207.6 157.39,209.1 157.79,210.6 157.44,212.1 157.67,213.6 157.7,215.1 157.89,216.6 158.39,218.1 157.95,219.6 158.18,221.1 158.96,222.6 157.69,224.1 158.74,225.6 159.11,227.1 158.42,228.6 158.33,230.1 159.44,231.6 158.38,233.1 158.24,234.6 158.64,236.1 159.07,237.6 157.95,239.1 158.3,240.6 158.28,242.1 159.13,243.6 158.38,245.1 159.08,246.6 157.8,248.1 158,249.6 158.47,251.1 158.8,252.6 157.92,254.1 157.42,255.6 157.14,257.1 157.78,258.6 157.07,260.1 158.09,261.6 158.05,263.1 156.77,264.6 156.85,266.1 157.71,267.6 157.31,269.1 157.52,270.6 156.6,272.1 156.12,273.6 156.32,275.1 157.13,276.6 156.1,278.1 156.15,279.6 156.18,281.1 156.1,282.6 155.99,284.1 156.82,285.6 155.35,287.1 154.99,288.6 156.59,290.1 156.39,291.6 156.49,293.1 155.41,294.6 156.25,296.1 156.12,297.6 154.76,299.1 155.62,300.6 155.69,302.1 155.3,303.6 154.95,305.1 154.45,306.6 154.46,308.1 154.16,309.6 153.79,311.1 154.64,312.6 154.01,314.1 154.87,315.6 153.4,317.1 154.86,318.6 154.4,320.1" fill="none" stroke="#ff0000" stroke-width="1.5" stroke-linejoin="round"/>
<line x1="163.7" y1="12.6" x2="163.7" y2="320.9" stroke="#262626" stroke-width="2.1" stroke-dasharray="8.3 8.82"/>
</g>
<g clip-path="url(#cb)">
<g fill="none" stroke="#0000ff" stroke-opacity="0.33" stroke-width="0.8" stroke-linejoin="round"><polyline points="396.98,12.5 397.46,15 398.1,17.5 398.47,20 398.87,22.5 399.33,25 399.59,27.5 400.05,30 400.53,32.5 401.07,35 401.23,37.5 401.56,40 401.82,42.5 402.78,45 403.6,47.5 404.07,50 405.08,52.5 406.01,55 406.75,57.5 406.27,60 405.52,62.5 404.78,65 404.36,67.5 403.09,70 401.54,72.5 400.04,75 398.43,77.5 396.95,80 395.04,82.5 393.3,85 391.32,87.5 389.4,90 387.5,92.5 385.7,95 383.78,97.5 382.13,100 381.39,102.5 380.56,105 379.61,107.5 379.26,110 378.8,112.5 378.35,115 378.28,117.5 378.53,120 379.17,122.5 379.56,125 380.18,127.5 380.56,130 381.4,132.5 382.12,135 382.39,137.5 382.87,140 383.73,142.5 384.31,145 385.14,147.5 385.61,150 385.97,152.5 386.67,155 387.42,157.5 387.86,160 388.16,162.5 388.64,165 389.43,167.5 390.04,170 390.3,172.5 390.69,175 390.92,177.5 391.06,180 391.59,182.5 391.74,185 392.11,187.5 392.38,190 392.53,192.5 392.82,195 392.75,197.5 392.98,200 392.91,202.5 393.04,205 393.05,207.5 393.12,210 393.54,212.5 393.77,215 393.72,217.5 394,220 393.82,222.5 393.79,225 394,227.5 394.06,230 393.84,232.5 394.12,235 393.95,237.5 393.86,240 394.06,242.5 394.01,245 393.98,247.5 393.86,250 393.79,252.5 394.01,255 394,257.5 394.19,260 394.22,262.5 394.3,265 394.61,267.5 394.62,270 394.68,272.5 394.87,275 394.68,277.5 394.54,280 394.82,282.5 394.99,285 394.84,287.5 394.72,290 394.91,292.5 395.15,295 394.97,297.5 395.22,300 395.38,302.5 395.36,305 395.27,307.5 395.07,310 394.9,312.5 395.25,315 395.15,317.5 395.32,320"/><polyline points="489.17,12.5 489.95,15 490.55,17.5 490.98,20 491.39,22.5 492.23,25 492.69,27.5 493.3,30 494.12,32.5 495.05,35 495.98,37.5 496.77,40 497.94,42.5 498.65,45 498.92,47.5 498.88,50 497.51,52.5 495.45,55 493.27,57.5 491.04,60 488.88,62.5 486.36,65 483.99,67.5 481.9,70 479.74,72.5 477.25,75 474.78,77.5 472.24,80 469.48,82.5 466.74,85 464.06,87.5 462.1,90 460.2,92.5 458.4,95 456.03,97.5 454.09,100 453.11,102.5 452.36,105 451.36,107.5 450.76,110 449.76,112.5 449.79,115 449.92,117.5 450.1,120 450.14,122.5 450.14,125 450.2,127.5 450.3,130 450.07,132.5 450.09,135 450.22,137.5 450.33,140 450.46,142.5 450.86,145 451.27,147.5 451.5,150 451.79,152.5 451.96,155 452.28,157.5 452.65,160 452.87,162.5 453.47,165 454.23,167.5 454.85,170 455.36,172.5 455.68,175 456.11,177.5 456.33,180 456.48,182.5 456.88,185 456.83,187.5 457.23,190 457.21,192.5 457.47,195 457.62,197.5 457.64,200 457.95,202.5 458.1,205 458.32,207.5 458.67,210 458.61,212.5 458.48,215 458.59,217.5 458.91,220 458.88,222.5 458.87,225 459.28,227.5 459.47,230 459.52,232.5 459.82,235 459.76,237.5 459.93,240 459.83,242.5 459.92,245 460.2,247.5 460.49,250 460.71,252.5 460.62,255 460.7,257.5 460.59,260 460.43,262.5 460.53,265 460.79,267.5 460.99,270 461.08,272.5 461.28,275 461.07,277.5 460.88,280 460.92,282.5 460.86,285 460.81,287.5 460.82,290 460.83,292.5 460.73,295 460.53,297.5 460.63,300 460.73,302.5 460.49,305 460.08,307.5 459.73,310 459.89,312.5 459.53,315 459.59,317.5 459.52,320"/><polyline points="584.41,12.5 585.66,15 586.5,17.5 587.47,20 588.77,22.5 589.86,25 591.39,27.5 592.42,30 593.34,32.5 594.26,35 595.48,37.5 596.15,40 596.66,42.5 596.9,45 596.65,47.5 596.43,50 595.72,52.5 594.78,55 592.74,57.5 590.58,60 588.5,62.5 586.7,65 584.99,67.5 583.35,70 581.83,72.5 580.36,75 579.1,77.5 578.48,80 577.9,82.5 577.36,85 576.21,87.5 575.27,90 574.33,92.5 572.97,95 572.09,97.5 570.5,100 568.18,102.5 566.09,105 564.08,107.5 562.19,110 560.17,112.5 558.29,115 556.55,117.5 555.82,120 555.33,122.5 554.59,125 553.97,127.5 553.15,130 553.41,132.5 553.7,135 553.83,137.5 553.98,140 553.89,142.5 554.19,145 554.48,147.5 554.71,150 554.7,152.5 554.86,155 554.78,157.5 555.04,160 555.24,162.5 555.17,165 555.04,167.5 555.15,170 555.4,172.5 555.9,175 556.23,177.5 556.35,180 556.92,182.5 557.08,185 557.65,187.5 557.86,190 558.2,192.5 558.76,195 558.95,197.5 559.21,200 559.67,202.5 560.2,205 560.74,207.5 561.08,210 561.52,212.5 561.71,215 562.14,217.5 562.11,220 562.25,222.5 562.58,225 562.78,227.5 563.22,230 563.22,232.5 563.15,235 563.23,237.5 563.14,240 562.94,242.5 562.82,245 562.93,247.5 563.02,250 562.74,252.5 562.83,255 562.93,257.5 562.77,260 562.71,262.5 562.49,265 562.49,267.5 562.47,270 562.5,272.5 562.25,275 562.51,277.5 562.48,280 562.39,282.5 562.52,285 562.5,287.5 562.44,290 562.49,292.5 562.23,295 562.26,297.5 562.22,300 562.43,302.5 562.54,305 562.3,307.5 562.22,310 561.99,312.5 561.96,315 562.11,317.5 562.25,320"/><polyline points="567.19,12.5 568.16,15 569.1,17.5 570.35,20 571.96,22.5 573.66,25 575.86,27.5 577.51,30 578.71,32.5 579.9,35 581.41,37.5 582.61,40 583.03,42.5 583.58,45 582.47,47.5 581.76,50 580.31,52.5 578.55,55 576.6,57.5 573.89,60 571.07,62.5 569.03,65 567.3,67.5 565.59,70 564.67,72.5 564.79,75 564.99,77.5 565.19,80 564.59,82.5 563.88,85 563.36,87.5 562.42,90 561.33,92.5 559.8,95 558.67,97.5 556.86,100 554.54,102.5 551.8,105 549.14,107.5 547.08,110 544.57,112.5 542.63,115"/><polyline points="536,12.5 536.42,15 536.96,17.5 537.79,20 538.51,22.5 539.71,25 541.35,27.5 542.69,30 544.24,32.5 545.39,35 546.49,37.5 547.09,40 547.3,42.5 547.67,45 548.18,47.5 548.74,50 549.25,52.5 549.27,55 549.6,57.5 550.22,60 550.67,62.5 551.21,65 551.34,67.5 551.48,70 551.55,72.5 551.06,75 550.81,77.5 549.33,80 547.84,82.5 546.1,85 543.55,87.5 541.01,90 538.8,92.5 536.96,95 535.06,97.5 532.68,100 530.37,102.5 528.58,105 526.41,107.5 524.41,110 522.15,112.5 520,115"/><polyline points="551.51,12.5 552.53,15 553.65,17.5 554.45,20 556.03,22.5 557.69,25 558.95,27.5 560.41,30 562.39,32.5 564.19,35 565.9,37.5 567.65,40 568.79,42.5 569.62,45 567.94,47.5 566.11,50 564.18,52.5 562.31,55 559.22,57.5 556.04,60 552.99,62.5 549.75,65 546.56,67.5 543.21,70 539.62,72.5 537,75 534.24,77.5 531.49,80 528.84,82.5 526.04,85 523.53,87.5 520.98,90 519.02,92.5 517.3,95 515.56,97.5 513.65,100 512.15,102.5 511.16,105 510.39,107.5 509.7,110 509.36,112.5 509.33,115 509.4,117.5 509.39,120 509.15,122.5 509.31,125 509.24,127.5 509,130 508.95,132.5 508.84,135 508.88,137.5 508.92,140 509.29,142.5 509.41,145 509.57,147.5 509.74,150 510.01,152.5 509.75,155 509.91,157.5 510.12,160 510.06,162.5 510.13,165 510.04,167.5 510.08,170 510.28,172.5 510.41,175 510.66,177.5 511.23,180 511.52,182.5 511.78,185 512.27,187.5 512.48,190 512.92,192.5 513.12,195 513.42,197.5 513.33,200 513.6,202.5 513.95,205 513.91,207.5 514.35,210 514.33,212.5 514.54,215 514.59,217.5 514.85,220 515.15,222.5 515.14,225 515.65,227.5 515.79,230 515.7,232.5 515.64,235 515.45,237.5 515.24,240 515.25,242.5 515.17,245 514.95,247.5 514.98,250 514.75,252.5 514.42,255 514.27,257.5 514.03,260 513.92,262.5 514.11,265 514.04,267.5 514.22,270 514.25,272.5 513.89,275 514.08,277.5 514.18,280 513.77,282.5 513.89,285 513.7,287.5 513.57,290 513.75,292.5 513.49,295 513.44,297.5 513.6,300 513.6,302.5 513.45,305 513.59,307.5 513.6,310 513.48,312.5 513.15,315 513.15,317.5 513.06,320"/><polyline points="587.73,12.5 588.34,15 589.28,17.5 589.96,20 590.87,22.5 591.93,25 592.82,27.5 593.59,30 594.47,32.5 594.81,35 595.36,37.5 595.71,40 596.33,42.5 596.18,45 591.01,47.5 585.55,50 580.12,52.5 577.26,55 574.35,57.5 571.31,60 568.13,62.5 564.94,65 562.58,67.5 560.12,70 557.66,72.5 555.22,75 552.84,77.5 550.1,80 547.43,82.5 545.22,85 542.89,87.5 540.47,90 537.31,92.5 534.29,95 531.47,97.5 528.76,100 526.48,102.5 523.85,105 521.54,107.5 518.92,110 516.97,112.5 515.49,115 513.86,117.5"/><polyline points="503.06,12.5 503.59,15 504.18,17.5 504.66,20 505.24,22.5 505.99,25 506.91,27.5 507.45,30 508.09,32.5 509.05,35 509.88,37.5 510.34,40 510.43,42.5 510.65,45 510.81,47.5 509.84,50 508.27,52.5 506.84,55 505.54,57.5 503.09,60 500.58,62.5 498.16,65 495.79,67.5 493.34,70 490.94,72.5 488.46,75 486.36,77.5 483.87,80 482.07,82.5 480.51,85 478.88,87.5 477.33,90 475.62,92.5 474.3,95 472.65,97.5 471.11,100 469.79,102.5 468.39,105 467.44,107.5 466.67,110 465.84,112.5 464.83,115 464.32,117.5 463.94,120 463.72,122.5 463.3,125 462.78,127.5 462.56,130 462.28,132.5 462.22,135 462.12,137.5 461.96,140 461.58,142.5 461.39,145 460.97,147.5 460.72,150 460.55,152.5 460.62,155 460.62,157.5 460.31,160 460.1,162.5 459.97,165 460.07,167.5 460.19,170 460.32,172.5 460.37,175 460.6,177.5 460.91,180 461.06,182.5 461.33,185 461.44,187.5 461.4,190 461.66,192.5 461.94,195 461.92,197.5 461.84,200 462.15,202.5 462.45,205 462.74,207.5 463.19,210 463.45,212.5 463.77,215 463.75,217.5 464.02,220 464.39,222.5 464.42,225 464.52,227.5 464.94,230 465.37,232.5 465.41,235 465.74,237.5 465.85,240 466.25,242.5 466.56,245 466.68,247.5 466.84,250 467.25,252.5 467.51,255 467.87,257.5 468.04,260 468.21,262.5 468.67,265 468.94,267.5 469.13,270 469.36,272.5 469.67,275 469.96,277.5 470.32,280 470.33,282.5 470.55,285 470.68,287.5 470.89,290 471.07,292.5 471.24,295 471.43,297.5 471.63,300 471.68,302.5 471.71,305 471.85,307.5 472.03,310 472.04,312.5 472.09,315 472.05,317.5 472.31,320"/><polyline points="508.31,12.5 507.94,15 507.56,17.5 507.4,20 508.32,22.5 509.1,25 510.92,27.5 511.19,30 512.04,32.5 512.62,35 514.03,37.5 515.48,40 515.06,42.5 514.45,45 514.04,47.5 513.71,50 513.58,52.5 511.73,55 509.78,57.5 508.09,60 506.53,62.5 505.39,65 505.18,67.5 504.63,70 503.46,72.5 501.78,75 500.24,77.5 498.51,80 497.7,82.5 496.03,85 494.74,87.5 493.74,90 492.27,92.5 490.44,95 489.63,97.5 488.69,100 486.78,102.5 485.44,105 485.1,107.5 483.9,110 481.3,112.5 475.66,115 471.5,117.5 470.51,120 470.64,122.5 470.7,125 470.66,127.5 470.28,130 471.05,132.5 471.11,135 470.54,137.5 469.81,140 469.97,142.5 470.02,145 470.72,147.5 471.12,150 471.27,152.5 470.76,155 470.41,157.5 470.4,160 470.33,162.5 471.18,165 471.28,167.5 471.54,170 472.23,172.5 471.67,175 471.67,177.5 471.12,180 471.65,182.5 470.91,185 471.59,187.5 472.11,190 472.45,192.5 471.62,195 471.32,197.5 471.77,200 471.26,202.5 471.5,205 471.67,207.5 472.53,210 472.63,212.5 473.12,215 472.69,217.5 473.13,220 472.97,222.5 473.64,225 472.95,227.5 473.58,230 473.17,232.5 473.35,235 473.47,237.5 473.03,240 473.73,242.5 473.49,245 473.34,247.5 472.91,250 472.97,252.5 473.27,255 473.86,257.5 473.78,260 474.06,262.5 473.39,265 473.32,267.5 473.34,270 474.06,272.5 474.34,275 474.26,277.5 473.24,280 473.04,282.5 473.35,285 472.86,287.5 472.96,290 472.86,292.5 472.11,295 472.99,297.5 473.32,300 472.66,302.5 472.78,305 472.36,307.5 472.17,310 472.26,312.5 471.95,315 471.77,317.5 471.7,320"/><polyline points="509.82,12.5 509.45,15 509.3,17.5 509.96,20 510.59,22.5 512.18,25 513.07,27.5 514.24,30 514.83,32.5 516.16,35 516.36,37.5 516.83,40 516.54,42.5 516.95,45 516.73,47.5 515.65,50 514.81,52.5 514.31,55 512.88,57.5 510.78,60 509.06,62.5 507.7,65 506.58,67.5 505.95,70 504.82,72.5 504.34,75 502.86,77.5 501.44,80 500.17,82.5 498.99,85 497.77,87.5 495.84,90 494.15,92.5 492.58,95 490.53,97.5 489.18,100 488.22,102.5 487.62,105 486.94,107.5 486.02,110 483.93,112.5 478.13,115 472.96,117.5"/><polyline points="527.4,12.5 528.44,15 528.9,17.5 529.85,20 531.61,22.5 533.76,25 535.82,27.5 537.56,30 538.74,32.5 540.81,35 542.9,37.5 544.42,40 544.91,42.5 545.52,45 543.85,47.5 542.99,50 542.2,52.5 540.4,55 538.47,57.5 536.66,60 534.01,62.5 532.85,65 531.35,67.5 529.38,70 527.45,72.5 525.32,75 523.58,77.5 521.85,80 519.56,82.5 518.09,85 515.72,87.5 513.53,90 510.72,92.5 509.04,95 506.09,97.5 504.29,100 501.87,102.5 499.61,105 497.73,107.5 495.49,110 493.06,112.5 487.61,115 482.35,117.5 480.83,120 480.61,122.5 481.09,125 480.71,127.5 481.21,130 480.75,132.5 480.85,135 481.25,137.5 480.73,140 480.83,142.5 480.4,145 480.11,147.5 480.12,150 481.18,152.5 481.9,155 482.07,157.5 481.76,160 482.03,162.5 482.33,165 482.12,167.5 482.26,170 482.62,172.5 481.91,175 481.65,177.5 481.83,180 481.56,182.5 481.7,185 482.04,187.5 481.8,190 482.08,192.5 481.98,195 482.3,197.5 482.26,200 482.79,202.5 482.48,205 483.12,207.5 482.98,210 483.96,212.5 484.27,215 484.39,217.5 484.47,220 484.91,222.5 485.38,225 485.88,227.5 486.31,230 486.36,232.5 487.05,235 487.38,237.5 487.7,240 487.42,242.5 487.32,245 487.47,247.5 488.06,250 488.06,252.5 488.12,255 488.1,257.5 488.74,260 488.36,262.5 487.77,265 488.21,267.5 488.75,270 488.93,272.5 488.9,275 489.08,277.5 488.66,280 488.74,282.5 488.16,285 487.83,287.5 488.01,290 488.22,292.5 488.25,295 487.86,297.5 488.41,300 488.6,302.5 488.39,305 488.35,307.5 488.44,310 488.33,312.5 488.05,315 488.93,317.5 489.63,320"/><polyline points="531.85,12.5 533.03,15 533.59,17.5 534.82,20 535.72,22.5 537.67,25 539.27,27.5 541.42,30 542.22,32.5 544.3,35 545.19,37.5 546.91,40 548.38,42.5 548.05,45 546.58,47.5 545.24,50 543.81,52.5 541.75,55 540.63,57.5 539.13,60 536.86,62.5 534.97,65 533.71,67.5 531.63,70 529.74,72.5 528.74,75 526.49,77.5 524.54,80 523.2,82.5 521.72,85 519.29,87.5 516.53,90 513.88,92.5 512.2,95 510.26,97.5 507.14,100 505.22,102.5 502.56,105 500.58,107.5 498.19,110 495.91,112.5 490.63,115 484.52,117.5"/><polyline points="519.81,12.5 519.51,15 520.64,17.5 520.25,20 520.84,22.5 522.63,25 523.59,27.5 525.58,30 527.29,32.5 528.57,35 528.86,37.5 530.29,40 531.18,42.5 530.94,45 529.21,47.5 527.9,50 526.67,52.5 525.87,55 523.66,57.5 521.57,60 519.68,62.5 518.88,65 518.32,67.5 516.96,70 516.14,72.5 515.02,75 513.2,77.5 510.77,80 508.64,82.5 507.61,85 505.93,87.5 503.57,90 501.92,92.5 499.27,95 498.24,97.5 496.1,100 494.19,102.5 492.41,105 490.25,107.5 489.19,110 486.43,112.5 480.74,115 476.74,117.5 475.58,120 476.75,122.5 478.32,125 478.8,127.5 479.44,130 480.56,132.5 481.03,135 482.72,137.5 484.3,140 484.15,142.5 485.06,145 486.44,147.5 487.12,150 488.73,152.5 489.46,155 489.72,157.5 490.76,160 491.89,162.5 492.5,165 493.66,167.5 494.94,170 495.65,172.5 496.39,175 497.71,177.5 498.63,180 499.28,182.5 500.67,185 500.67,187.5 501.89,190 502.03,192.5 503.09,195 503.5,197.5 504.37,200 504.98,202.5 505.45,205 505.81,207.5 505.21,210 505.22,212.5 504.82,215 505.14,217.5 505.25,220 504.68,222.5 505.2,225 505.79,227.5 506.02,230 506.7,232.5 506.05,235 505.56,237.5 505.02,240 505.42,242.5 505.61,245 505.77,247.5 505.62,250 506.38,252.5 505.78,255 506.69,257.5 506.81,260 506.71,262.5 507,265 506.3,267.5 505.64,270 505.4,272.5 504.78,275 504.74,277.5 505.16,280 505.28,282.5 504.92,285 505.15,287.5 504.48,290 505.15,292.5 504.55,295 504.25,297.5 503.86,300 504.4,302.5 504.97,305 505.27,307.5 504.31,310 504.17,312.5 503.96,315 503.56,317.5 504.44,320"/><polyline points="538.02,12.5 538.27,15 539.01,17.5 539.89,20 540.16,22.5 541.1,25 542.44,27.5 542.83,30 543.68,32.5 545.38,35 545.88,37.5 546.84,40 546.85,42.5 546.9,45 545.33,47.5 543.77,50 543.37,52.5 542.13,55 540.31,57.5 537.79,60 535.46,62.5 533.98,65 532.26,67.5 530.94,70 530.21,72.5 527.99,75 525.75,77.5 524.33,80 522.25,82.5 519.45,85 517.32,87.5 515.49,90 512.6,92.5 510.17,95 508.18,97.5 506.31,100 503.94,102.5 502.07,105 499.94,107.5 497.79,110 495.19,112.5 488.94,115 483.84,117.5"/></g>
<g fill="none" stroke="#ff0000" stroke-opacity="0.34" stroke-width="0.8" stroke-linejoin="round"><polyline points="497.61,12.5 497.14,15 497.08,17.5 497.57,20 497.83,22.5 498.23,25 498.71,27.5 499.83,30 500.72,32.5 501.8,35 503.32,37.5 504.25,40 505.1,42.5 504.89,45 504.99,47.5 504.36,50 503.63,52.5 502.29,55 500.66,57.5 498.7,60 497.02,62.5 495.52,65 494.23,67.5 493.85,70 493.16,72.5 491.91,75 490.82,77.5 490.1,80 490.01,82.5 488.7,85 487.77,87.5 486.72,90 486.01,92.5 484.05,95 482.58,97.5 480.87,100 478.53,102.5 477.8,105 476.41,107.5 475.65,110 474.49,112.5 473.19,115 473.04,117.5 473.58,120 473.3,122.5 472.86,125 472.96,127.5 472.26,130 471.99,132.5 471.88,135 471.91,137.5 471.36,140 471.62,142.5 471.3,145 471.65,147.5 471.87,150 471.34,152.5 470.93,155 470.63,157.5 470.92,160 470.73,162.5 470.52,165 470.97,167.5 470.47,170 470.07,172.5 469.76,175 469.29,177.5 468.61,180 467.97,182.5 468.2,185 468.29,187.5 468.67,190 469.21,192.5 468.74,195 468.81,197.5 469.18,200 468.78,202.5 469.07,205 469.3,207.5 469.9,210 470.31,212.5 469.82,215 469.93,217.5 469.3,220 469.26,222.5 469.18,225 468.68,227.5 468.68,230 468.62,232.5 468.75,235 468.55,237.5 468.21,240 468.25,242.5 468.38,245 468.08,247.5 468.49,250 468.28,252.5 467.89,255 467.89,257.5 468,260 467.58,262.5 467.77,265 468.08,267.5 468.14,270 468.37,272.5 467.64,275 467.48,277.5 467.28,280 466.68,282.5 466.6,285 466.03,287.5 466.12,290 466.3,292.5 466.28,295 466.06,297.5 465.76,300 465.16,302.5 465.06,305 465.7,307.5 465.8,310 465.46,312.5 465.7,315 465.24,317.5 465.2,320"/><polyline points="500.15,12.5 500.49,15 500.61,17.5 501.04,20 502.26,22.5 503.24,25 504.04,27.5 505.1,30 505.88,32.5 506.69,35 507.06,37.5 508.14,40 508.95,42.5 508.95,45 509.56,47.5 508.66,50 506.96,52.5 505.71,55 504,57.5 502.38,60 501.58,62.5 499.65,65 497.86,67.5 496.36,70 495.55,72.5 494.21,75 492.61,77.5 492.42,80 491.53,82.5 490.09,85 488.82,87.5 487.73,90 486.56,92.5 485.47,95 484.28,97.5 483.06,100 481.74,102.5 479.96,105 478.43,107.5 477.62,110 476.01,112.5 475.45,115 475.56,117.5 476.57,120 477.36,122.5 477.53,125 476.7,127.5 476.55,130 476.23,132.5 476.02,135 475.57,137.5 475.03,140 475.14,142.5 475.03,145 474.54,147.5 474.13,150 473.85,152.5 473.41,155 473.42,157.5 472.89,160 472.33,162.5 471.83,165 471.42,167.5 471.83,170 471.38,172.5 471.4,175 471.82,177.5 471.79,180 471.33,182.5 471.83,185 472.26,187.5 471.55,190 471.17,192.5 471.14,195 471.48,197.5 471.24,200 471.74,202.5 471.59,205 472.09,207.5 472.04,210 472.02,212.5 472.58,215 473.2,217.5 473.75,220 473.97,222.5 473.99,225 474.41,227.5 474.69,230 475.24,232.5 475.65,235 475.12,237.5 475.01,240 475.3,242.5 475.01,245 474.7,247.5 474.23,250 474.57,252.5 475.36,255 476.11,257.5 475.69,260 475.9,262.5 475.73,265 475.86,267.5 475.66,270 476.19,272.5 476.72,275 475.96,277.5 476.15,280 475.54,282.5 474.91,285 474.66,287.5 475.03,290 475.69,292.5 475.12,295 474.91,297.5 474.32,300 474.49,302.5 474.55,305 474.46,307.5 474.3,310 474.8,312.5 475.28,315 474.99,317.5 474.86,320"/><polyline points="502.15,12.5 502.24,15 503.19,17.5 503.31,20 504.17,22.5 504.86,25 505.93,27.5 506.38,30 506.95,32.5 507.48,35 508.84,37.5 509.19,40 509.61,42.5 509.44,45 509.46,47.5 508.8,50 507.89,52.5 506.29,55 505.17,57.5 503.54,60 501.86,62.5 500.58,65 499.14,67.5 497.77,70 496.22,72.5 494.82,75 494.55,77.5 494.06,80 492.81,82.5 491.39,85 490.19,87.5 489.62,90 487.92,92.5 487.11,95 485.74,97.5 483.92,100 482.37,102.5 480.69,105 478.77,107.5 477.55,110 476.45,112.5 475.75,115 475.49,117.5"/><polyline points="507.76,12.5 508.14,15 509.31,17.5 509.43,20 510.59,22.5 511.56,25 511.59,27.5 511.74,30 512.24,32.5 512.74,35 512.93,37.5 513.64,40 514.75,42.5 514.91,45 515.03,47.5 513.94,50 512.27,52.5 511.82,55 509.41,57.5 507.98,60 507,62.5 505.94,65 504.72,67.5 503.08,70 502.22,72.5 501.44,75 500.51,77.5 500.54,80 498.5,82.5 497.67,85 495.65,87.5 494.18,90 492.03,92.5 491.1,95 488.56,97.5 486.76,100 484.09,102.5 482.24,105 480.55,107.5 479.38,110 478.45,112.5 477.16,115 477.21,117.5 477.77,120 477.67,122.5 478.31,125 477.77,127.5 476.87,130 476.48,132.5 476.82,135 476.17,137.5 476.51,140 476.44,142.5 476.67,145 476.02,147.5 475.31,150 474.74,152.5 474.59,155 474.56,157.5 473.78,160 473.93,162.5 473.87,165 473.67,167.5 473.85,170 474.68,172.5 474.1,175 474.74,177.5 474.32,180 474.68,182.5 473.86,185 474.64,187.5 474.35,190 474.99,192.5 474.26,195 473.92,197.5 474.12,200 473.65,202.5 473.42,205 473.94,207.5 474.88,210 474.64,212.5 474.2,215 474.14,217.5 475.2,220 474.74,222.5 475.2,225 475.19,227.5 475.66,230 475.35,232.5 475.74,235 476.55,237.5 477.22,240 477.44,242.5 477.42,245 477.53,247.5 476.86,250 477.53,252.5 477.88,255 477.79,257.5 478.1,260 477.8,262.5 477.46,265 476.9,267.5 477.04,270 477.11,272.5 477.07,275 476.19,277.5 476.44,280 476.34,282.5 476.5,285 476.65,287.5 477.35,290 476.61,292.5 476.51,295 477.33,297.5 477.61,300 477.12,302.5 477.41,305 478.11,307.5 477.7,310 478.15,312.5 477.25,315 477.95,317.5 477.7,320"/><polyline points="509.57,12.5 510.09,15 510.85,17.5 512.06,20 513.32,22.5 514.53,25 515.28,27.5 517.1,30 517.33,32.5 518.99,35 520.03,37.5 520.25,40 521.17,42.5 521.36,45 521.11,47.5 521.09,50 518.91,52.5 516.84,55 515.23,57.5 512.66,60 510.96,62.5 509.66,65 507.83,67.5 505.82,70 504.83,72.5 503.97,75 502.92,77.5 502.1,80 501.4,82.5 500.1,85 497.54,87.5 495.42,90 493.04,92.5 490.65,95 488.87,97.5 487.6,100 485.95,102.5 483.52,105 481.46,107.5 479.8,110 478.9,112.5 478.02,115 478.6,117.5"/><polyline points="508.44,12.5 508.99,15 509.05,17.5 509.71,20 510.99,22.5 512.06,25 512.44,27.5 513.76,30 514.75,32.5 515.21,35 515.87,37.5 516.47,40 517.21,42.5 517.35,45 517.75,47.5 517.93,50 516.38,52.5 514.7,55 513.61,57.5 512.18,60 510.29,62.5 508.47,65 507.8,67.5 506.81,70 505.52,72.5 504.13,75 503.84,77.5 503.7,80 503.11,82.5 501.63,85 499.94,87.5 498.4,90 496.04,92.5 494.38,95 492.42,97.5 490.64,100 488.01,102.5 485.93,105 484.09,107.5 482.82,110 480.7,112.5 479.56,115 479.04,117.5 480.33,120 480.65,122.5 481.39,125 481.21,127.5 481.82,130 482.14,132.5 482.15,135 482.8,137.5 482.68,140 483.05,142.5 483.3,145 483.36,147.5 482.94,150 483.07,152.5 483.04,155 483.22,157.5 484.06,160 483.96,162.5 484.42,165 484.82,167.5 484.64,170 484.69,172.5 484.39,175 485.16,177.5 485,180 485.11,182.5 485.12,185 485.78,187.5 486.42,190 486.67,192.5 486.84,195 486.43,197.5 487.14,200 486.67,202.5 486.63,205 486.62,207.5 487.09,210 487.45,212.5 487.35,215 488,217.5 488.66,220 488.09,222.5 488.41,225 488.49,227.5 488.45,230 488.57,232.5 488.43,235 488.78,237.5 489.01,240 489.7,242.5 490.33,245 490.92,247.5 490.66,250 491.01,252.5 491.1,255 491.26,257.5 491.8,260 490.9,262.5 490.62,265 490.29,267.5 490.33,270 489.78,272.5 490.3,275 489.72,277.5 489.42,280 488.85,282.5 488.67,285 488.96,287.5 488.34,290 487.9,292.5 488.14,295 488.32,297.5 488.63,300 488.25,302.5 488.65,305 488.89,307.5 489.15,310 488.51,312.5 488.41,315 487.71,317.5 488.2,320"/><polyline points="520.77,12.5 521.2,15 520.68,17.5 520.84,20 521.67,22.5 522.54,25 522.71,27.5 524.4,30 525.18,32.5 526.35,35 526.56,37.5 527.55,40 527.48,42.5 527.29,45 527.2,47.5 526.39,50 525.42,52.5 523.35,55 521.4,57.5 518.83,60 516.6,62.5 514.84,65 513.27,67.5 511.69,70 510.83,72.5 508.68,75 507.9,77.5 506.46,80 506.02,82.5 504.34,85 502.27,87.5 500.56,90 499.18,92.5 497.91,95 495.6,97.5 492.27,100 489.07,102.5 487.55,105 485.99,107.5 484.34,110 481.7,112.5 480.27,115 479.21,117.5"/><polyline points="521.24,12.5 520.93,15 522.59,17.5 523.49,20 525.07,22.5 525.05,25 525.91,27.5 526.4,30 527.34,32.5 528.02,35 530.06,37.5 530.76,40 531.51,42.5 532.47,45 532.86,47.5 532.96,50 531.2,52.5 529.2,55 527.8,57.5 525.33,60 522.71,62.5 521.05,65 518.42,67.5 516.27,70 514.36,72.5 512.64,75 510.71,77.5 509.59,80 508.05,82.5 505.37,85 504.16,87.5 501.31,90 499.41,92.5 497.53,95 495.34,97.5 492.46,100 489.15,102.5 486.9,105 484.73,107.5 482.9,110 480.54,112.5 479.73,115 479.63,117.5 479.93,120 480.52,122.5 481.83,125 481.03,127.5 481.48,130 482.6,132.5 482.43,135 482.74,137.5 482.57,140 482.3,142.5 482.75,145 483.15,147.5 482.98,150 483.22,152.5 483.48,155 484.16,157.5 483.39,160 482.81,162.5 482.62,165 482.5,167.5 483.44,170 483.53,172.5 484.47,175 484.41,177.5 484.13,180 484.68,182.5 484,185 485.18,187.5 485.92,190 485.61,192.5 485.32,195 486.06,197.5 486.65,200 487,202.5 486.18,205 486.87,207.5 486.09,210 486.56,212.5 486.85,215 487.87,217.5 488.22,220 487.39,222.5 488.48,225 489.11,227.5 489.35,230 488.47,232.5 489.09,235 489.02,237.5 489.49,240 490.51,242.5 491.3,245 490.37,247.5 490.95,250 490.81,252.5 491.32,255 491.05,257.5 490.97,260 490.74,262.5 489.91,265 489.58,267.5 490.1,270 489.26,272.5 488.61,275 489.44,277.5 489.84,280 489.96,282.5 489.22,285 488.57,287.5 488.38,290 489.47,292.5 489.66,295 490.54,297.5 489.94,300 489.8,302.5 489.92,305 490.62,307.5 489.84,310 490.62,312.5 490.53,315 489.58,317.5 489.53,320"/><polyline points="524.7,12.5 525.31,15 527.09,17.5 527.71,20 529.13,22.5 529.83,25 531.56,27.5 531.86,30 533.84,32.5 534.36,35 535.71,37.5 536.04,40 536.53,42.5 536.5,45 535.73,47.5 535.24,50 533.52,52.5 531.34,55 529.43,57.5 528.13,60 525.53,62.5 523.56,65 521.33,67.5 520.51,70 518.04,72.5 516.62,75 514.04,77.5 512.25,80 511.2,82.5 509.34,85 506.51,87.5 503.28,90 502.02,92.5 499.57,95 497.98,97.5 495.27,100 492.79,102.5 490.58,105 489.55,107.5 488.23,110 485.71,112.5 483.79,115 482.65,117.5"/><polyline points="529.48,12.5 528.74,15 529.11,17.5 530.54,20 530.66,22.5 532.19,25 533.45,27.5 534.92,30 535.97,32.5 536.72,35 538.74,37.5 540.24,40 541.47,42.5 541.2,45 541.06,47.5 539.48,50 536.93,52.5 534.96,55 532.92,57.5 529.93,60 528.23,62.5 526.14,65 524.65,67.5 523.31,70 521.51,72.5 519.17,75 518.01,77.5 516.95,80 514.59,82.5 513.02,85 510.97,87.5 508,90 505.06,92.5 501.77,95 499.58,97.5 496.49,100 493.28,102.5 490.5,105 487.71,107.5 485.65,110 483.17,112.5 481.23,115 480.71,117.5"/><polyline points="534.02,12.5 534.42,15 534.14,17.5 535.15,20 536.39,22.5 537.19,25 537.9,27.5 539.22,30 540.16,32.5 541.33,35 542.63,37.5 543.56,40 543.29,42.5 542.64,45 542.72,47.5 541.42,50 539.88,52.5 537.23,55 534.84,57.5 532.31,60 530.43,62.5 528.91,65 526.58,67.5 524.56,70 522.24,72.5 519.86,75 518.79,77.5 516.82,80 515.9,82.5 514.04,85 510.98,87.5 509.44,90 506.26,92.5 503.97,95 500.91,97.5 499.07,100 495.72,102.5 493.83,105 490.66,107.5 488.62,110 485.52,112.5 482.93,115 482.83,117.5"/><polyline points="536.59,12.5 536.67,15 537.55,17.5 538.31,20 539.04,22.5 539.28,25 540.18,27.5 540.94,30 542.17,32.5 543.19,35 544.1,37.5 544.59,40 545.46,42.5 545.83,45 545.13,47.5 543.61,50 541.64,52.5 539.64,55 537.93,57.5 535.64,60 532.81,62.5 530.27,65 527.82,67.5 526.04,70 524.57,72.5 523.18,75 521.7,77.5 520.77,80 519.24,82.5 517.42,85 514.26,87.5 511.76,90 509.24,92.5 506.84,95 504.35,97.5 501.51,100 498.82,102.5 495.5,105 492.98,107.5 491.01,110 487.84,112.5 485.34,115 485.5,117.5 487.29,120 487.29,122.5 487.01,125 487.69,127.5 488.15,130 488.37,132.5 488.67,135 489.17,137.5 489.71,140 489.22,142.5 488.98,145 489.73,147.5 490.65,150 491.33,152.5 491.44,155 491.46,157.5 491.52,160 491.19,162.5 491.87,165 491.88,167.5 492.32,170 492.64,172.5 492.72,175 493.24,177.5 493.46,180 493.41,182.5 494.2,185 494.06,187.5 493.93,190 493.98,192.5 494.33,195 495.04,197.5 495.15,200 495.02,202.5 495.42,205 495.31,207.5 495.55,210 495.45,212.5 496.14,215 495.9,217.5 495.78,220 495.81,222.5 495.9,225 496.49,227.5 496.96,230 497.54,232.5 497.7,235 497.27,237.5 497.74,240 497.54,242.5 497.33,245 497.4,247.5 498.19,250 498.13,252.5 498.07,255 498.71,257.5 499.38,260 499.09,262.5 498.51,265 498.8,267.5 499.03,270 498.69,272.5 498.93,275 498.64,277.5 498.25,280 498.29,282.5 498.49,285 498.33,287.5 498.61,290 497.86,292.5 497.78,295 497.57,297.5 497,300 497.53,302.5 497.05,305 496.69,307.5 497.2,310 497.75,312.5 498.18,315 497.84,317.5 498.25,320"/><polyline points="498.46,12.5 498.61,15 499.69,17.5 499.54,20 499.7,22.5 500.78,25 502.16,27.5 503.51,30 505.16,32.5 505.98,35 506.41,37.5 506.44,40 506.5,42.5 507.49,45 506.86,47.5 506.16,50 504.76,52.5 502.81,55 501.12,57.5 499.25,60 497.32,62.5 496.08,65 494.84,67.5 493.81,70 493.1,72.5 492.06,75 491.66,77.5 490.49,80 489.14,82.5 487.25,85 485.6,87.5 484.63,90 484.15,92.5 482.94,95 481.22,97.5 479.45,100 477.83,102.5 476.23,105 475.59,107.5 475.15,110 473.85,112.5 473.26,115 473.81,117.5"/><polyline points="513.95,12.5 513.51,15 514.81,17.5 516.08,20 516.24,22.5 517.58,25 518.4,27.5 519.02,30 519.87,32.5 520.79,35 522.25,37.5 522.86,40 522.94,42.5 523.27,45 523.58,47.5 523.08,50 521.77,52.5 520.04,55 517.71,57.5 515.19,60 513.13,62.5 510.75,65 508.75,67.5 507.46,70 505.84,72.5 504.45,75 503.27,77.5 502.25,80 500.82,82.5 499.78,85 498.06,87.5 496.06,90 494.36,92.5 492.54,95 490.55,97.5 489.04,100 486.25,102.5 484.96,105 483.66,107.5 482.34,110 479.95,112.5 478.6,115 479.07,117.5"/><polyline points="531.32,12.5 530.71,15 532.64,17.5 532.87,20 534.64,22.5 535.02,25 538.11,27.5 539.12,30 539.61,32.5 542.14,35 543.17,37.5 544.87,40 546.03,42.5 548.45,45 547.74,47.5 546.27,50 542.63,52.5 540.66,55 537.75,57.5 535.88,60 534.13,62.5 531.8,65 528.28,67.5 526.43,70 524.56,72.5 523.28,75 522.99,77.5 520.91,80 518.98,82.5 515.55,85 514.41,87.5 511.29,90 509.92,92.5 508.31,95 504.84,97.5 503.21,100 499.89,102.5 496.8,105 494.35,107.5 493.15,110 490.32,112.5 487.98,115 486.66,117.5"/><polyline points="505.47,12.5 505.18,15 505.3,17.5 505.25,20 505.59,22.5 506.88,25 508.1,27.5 509.77,30 511.28,32.5 512.42,35 513.4,37.5 514.18,40 514.8,42.5 515.27,45 514.51,47.5 514.41,50 512.55,52.5 510.56,55 509.37,57.5 506.88,60 505.15,62.5 503.22,65 501.97,67.5 500.62,70 499.74,72.5 498.93,75 497.67,77.5 496.25,80 495.28,82.5 493.16,85 492.15,87.5 490.9,90 489.05,92.5 487.08,95 485.88,97.5 484.39,100 482.94,102.5 481.38,105 479.31,107.5 478.15,110 476.04,112.5 475.62,115 475.91,117.5"/></g>
<polyline points="524.6,12.6 524.6,13.4 526,20.3 529.4,27.2 532.9,34 535.8,40 536.5,44.7 534.6,49.4 532.3,54.1 528.8,58.7 525.3,63.4 522.9,68.1 520.6,72.8 517.1,77.5 513.5,82.2 510,86.8 505.4,92.7 500.7,98.5 496,104.4 492.5,110.3 489,115 486.6,117.3 479.6,118 478,121 478.1,143 479.3,170 480,200 480.8,219.5 484,220.7 484.8,233 485.6,254.6 485.5,260 484.6,295.8 483.7,320.9" fill="none" stroke="#0000ff" stroke-width="1.7" stroke-linejoin="round"/>
<polyline points="513,12.6 512.6,13.4 514.3,20.3 517,27.2 521.2,35.4 522.9,40 524.1,44.7 523.6,49.4 520.6,54.1 517.1,58.7 513.5,63.4 510,68.1 507,72.8 504.2,77.5 503,81 500.7,84.5 497.2,89.2 493.6,93.9 490.1,98.5 485.4,103.2 481.9,107.9 478.4,112.6 476.5,116.1 477.2,118.5 478.4,120.8 478.6,125 478.8,143 479.5,156 480,170 480.7,200 481.5,219.9 482.3,233 483.1,260 481.9,295.8 481.2,320.9" fill="none" stroke="#ff0000" stroke-width="1.7" stroke-linejoin="round"/>
</g>
<g stroke="#262626" stroke-width="0.6" fill="none"><line x1="38.00" y1="320.90" x2="38.00" y2="318.10"/><line x1="38.00" y1="12.60" x2="38.00" y2="15.40"/><line x1="131.67" y1="320.90" x2="131.67" y2="318.10"/><line x1="131.67" y1="12.60" x2="131.67" y2="15.40"/><line x1="225.33" y1="320.90" x2="225.33" y2="318.10"/><line x1="225.33" y1="12.60" x2="225.33" y2="15.40"/><line x1="319.00" y1="320.90" x2="319.00" y2="318.10"/><line x1="319.00" y1="12.60" x2="319.00" y2="15.40"/><line x1="38.00" y1="12.60" x2="40.80" y2="12.60"/><line x1="319.00" y1="12.60" x2="316.20" y2="12.60"/><line x1="38.00" y1="63.98" x2="40.80" y2="63.98"/><line x1="319.00" y1="63.98" x2="316.20" y2="63.98"/><line x1="38.00" y1="115.37" x2="40.80" y2="115.37"/><line x1="319.00" y1="115.37" x2="316.20" y2="115.37"/><line x1="38.00" y1="166.75" x2="40.80" y2="166.75"/><line x1="319.00" y1="166.75" x2="316.20" y2="166.75"/><line x1="38.00" y1="218.13" x2="40.80" y2="218.13"/><line x1="319.00" y1="218.13" x2="316.20" y2="218.13"/><line x1="38.00" y1="269.52" x2="40.80" y2="269.52"/><line x1="319.00" y1="269.52" x2="316.20" y2="269.52"/><line x1="38.00" y1="320.90" x2="40.80" y2="320.90"/><line x1="319.00" y1="320.90" x2="316.20" y2="320.90"/><rect x="38.00" y="12.60" width="281.00" height="308.30"/></g>
<g fill="#262626" font-size="12"><text x="38.00" y="336.6" text-anchor="middle">-5</text><text x="131.67" y="336.6" text-anchor="middle">0</text><text x="225.33" y="336.6" text-anchor="middle">5</text><text x="319.00" y="336.6" text-anchor="middle">10</text><text x="34.10" y="16.90" text-anchor="end">0</text><text x="34.10" y="68.28" text-anchor="end">100</text><text x="34.10" y="119.67" text-anchor="end">200</text><text x="34.10" y="171.05" text-anchor="end">300</text><text x="34.10" y="222.43" text-anchor="end">400</text><text x="34.10" y="273.82" text-anchor="end">500</text><text x="34.10" y="325.20" text-anchor="end">600</text></g>
<g fill="#262626"><text x="127.20" y="354.8" font-size="12">b</text><text x="134.50" y="360.6" font-size="10">bp</text><text x="150.10" y="354.8" font-size="12">λ=650nm</text><text x="203.00" y="354.8" font-size="12">(m</text><text x="216.50" y="348.4" font-size="8.5">-1</text><text x="225.70" y="354.8" font-size="12">)</text><text x="287.95" y="356.1" font-size="13.7" style="stroke-width:0">×</text><text x="296.00" y="355.1" font-size="13">10</text><text x="310.10" y="348.6" font-size="9.8">-4</text></g>
<g stroke="#262626" stroke-width="0.6" fill="none"><line x1="363.50" y1="320.90" x2="363.50" y2="318.10"/><line x1="363.50" y1="12.60" x2="363.50" y2="15.40"/><line x1="457.20" y1="320.90" x2="457.20" y2="318.10"/><line x1="457.20" y1="12.60" x2="457.20" y2="15.40"/><line x1="550.90" y1="320.90" x2="550.90" y2="318.10"/><line x1="550.90" y1="12.60" x2="550.90" y2="15.40"/><line x1="644.60" y1="320.90" x2="644.60" y2="318.10"/><line x1="644.60" y1="12.60" x2="644.60" y2="15.40"/><line x1="363.50" y1="12.60" x2="366.30" y2="12.60"/><line x1="644.60" y1="12.60" x2="641.80" y2="12.60"/><line x1="363.50" y1="63.98" x2="366.30" y2="63.98"/><line x1="644.60" y1="63.98" x2="641.80" y2="63.98"/><line x1="363.50" y1="115.37" x2="366.30" y2="115.37"/><line x1="644.60" y1="115.37" x2="641.80" y2="115.37"/><line x1="363.50" y1="166.75" x2="366.30" y2="166.75"/><line x1="644.60" y1="166.75" x2="641.80" y2="166.75"/><line x1="363.50" y1="218.13" x2="366.30" y2="218.13"/><line x1="644.60" y1="218.13" x2="641.80" y2="218.13"/><line x1="363.50" y1="269.52" x2="366.30" y2="269.52"/><line x1="644.60" y1="269.52" x2="641.80" y2="269.52"/><line x1="363.50" y1="320.90" x2="366.30" y2="320.90"/><line x1="644.60" y1="320.90" x2="641.80" y2="320.90"/><rect x="363.50" y="12.60" width="281.10" height="308.30"/></g>
<g fill="#262626" font-size="12"><text x="363.50" y="336.6" text-anchor="middle">-5</text><text x="457.20" y="336.6" text-anchor="middle">0</text><text x="550.90" y="336.6" text-anchor="middle">5</text><text x="644.60" y="336.6" text-anchor="middle">10</text><text x="648.60" y="16.90" text-anchor="start">0</text><text x="648.60" y="68.28" text-anchor="start">100</text><text x="648.60" y="119.67" text-anchor="start">200</text><text x="648.60" y="171.05" text-anchor="start">300</text><text x="648.60" y="222.43" text-anchor="start">400</text><text x="648.60" y="273.82" text-anchor="start">500</text><text x="648.60" y="325.20" text-anchor="start">600</text></g>
<g fill="#262626"><text x="452.70" y="354.8" font-size="12">b</text><text x="460.00" y="360.6" font-size="10">bp</text><text x="475.60" y="354.8" font-size="12">λ=650nm</text><text x="528.50" y="354.8" font-size="12">(m</text><text x="542.00" y="348.4" font-size="8.5">-1</text><text x="551.20" y="354.8" font-size="12">)</text><text x="613.45" y="356.1" font-size="13.7" style="stroke-width:0">×</text><text x="621.50" y="355.1" font-size="13">10</text><text x="635.60" y="348.6" font-size="9.8">-4</text></g>
<rect x="44.3" y="253.5" width="164.1" height="61.8" fill="#fff" stroke="#262626" stroke-width="0.5"/>
<g stroke-width="1.6"><line x1="47.2" y1="264.4" x2="55.4" y2="264.4" stroke="#262626" stroke-width="2.1"/><line x1="63.1" y1="264.4" x2="69.3" y2="264.4" stroke="#262626" stroke-width="2.1"/><line x1="47.2" y1="284.7" x2="69.3" y2="284.7" stroke="#0000ff"/><line x1="47.2" y1="303.9" x2="69.3" y2="303.9" stroke="#ff0000"/></g>
<g font-size="12" fill="#000"><text x="71.5" y="266.7">Dark <tspan font-style="italic">b</tspan><tspan font-style="italic" font-size="10" dy="5.2" dx="0.8">bp</tspan><tspan dy="-5.2"> value</tspan></text><text x="71.5" y="286.8">Original <tspan font-style="italic">b</tspan><tspan font-style="italic" font-size="10" dy="5.2" dx="0.8">bp</tspan><tspan dy="-5.2"> mean</tspan></text><text x="71.5" y="305.6">Dark corrected <tspan font-style="italic">b</tspan><tspan font-style="italic" font-size="10" dy="5.2" dx="0.8">bp</tspan><tspan dy="-5.2"> mean</tspan></text></g>
<text x="178.50" y="9.0" text-anchor="middle" font-weight="bold" font-size="11.8" fill="#000">Mission sg626-4</text>
<text x="504.05" y="9.0" text-anchor="middle" font-weight="bold" font-size="11.8" fill="#000">All Missions</text>
<text x="47.6" y="23.5" font-weight="bold" font-size="12" fill="#000">a</text>
<text x="373.2" y="23.5" font-weight="bold" font-size="12" fill="#000">b</text>
<text transform="translate(10.2,165.3) rotate(-90)" text-anchor="middle" font-size="12" fill="#262626">Depth (m)</text>
<text transform="translate(682.5,168.2) rotate(-90)" text-anchor="middle" font-size="12" fill="#262626">Depth (m)</text></svg></body></html>
